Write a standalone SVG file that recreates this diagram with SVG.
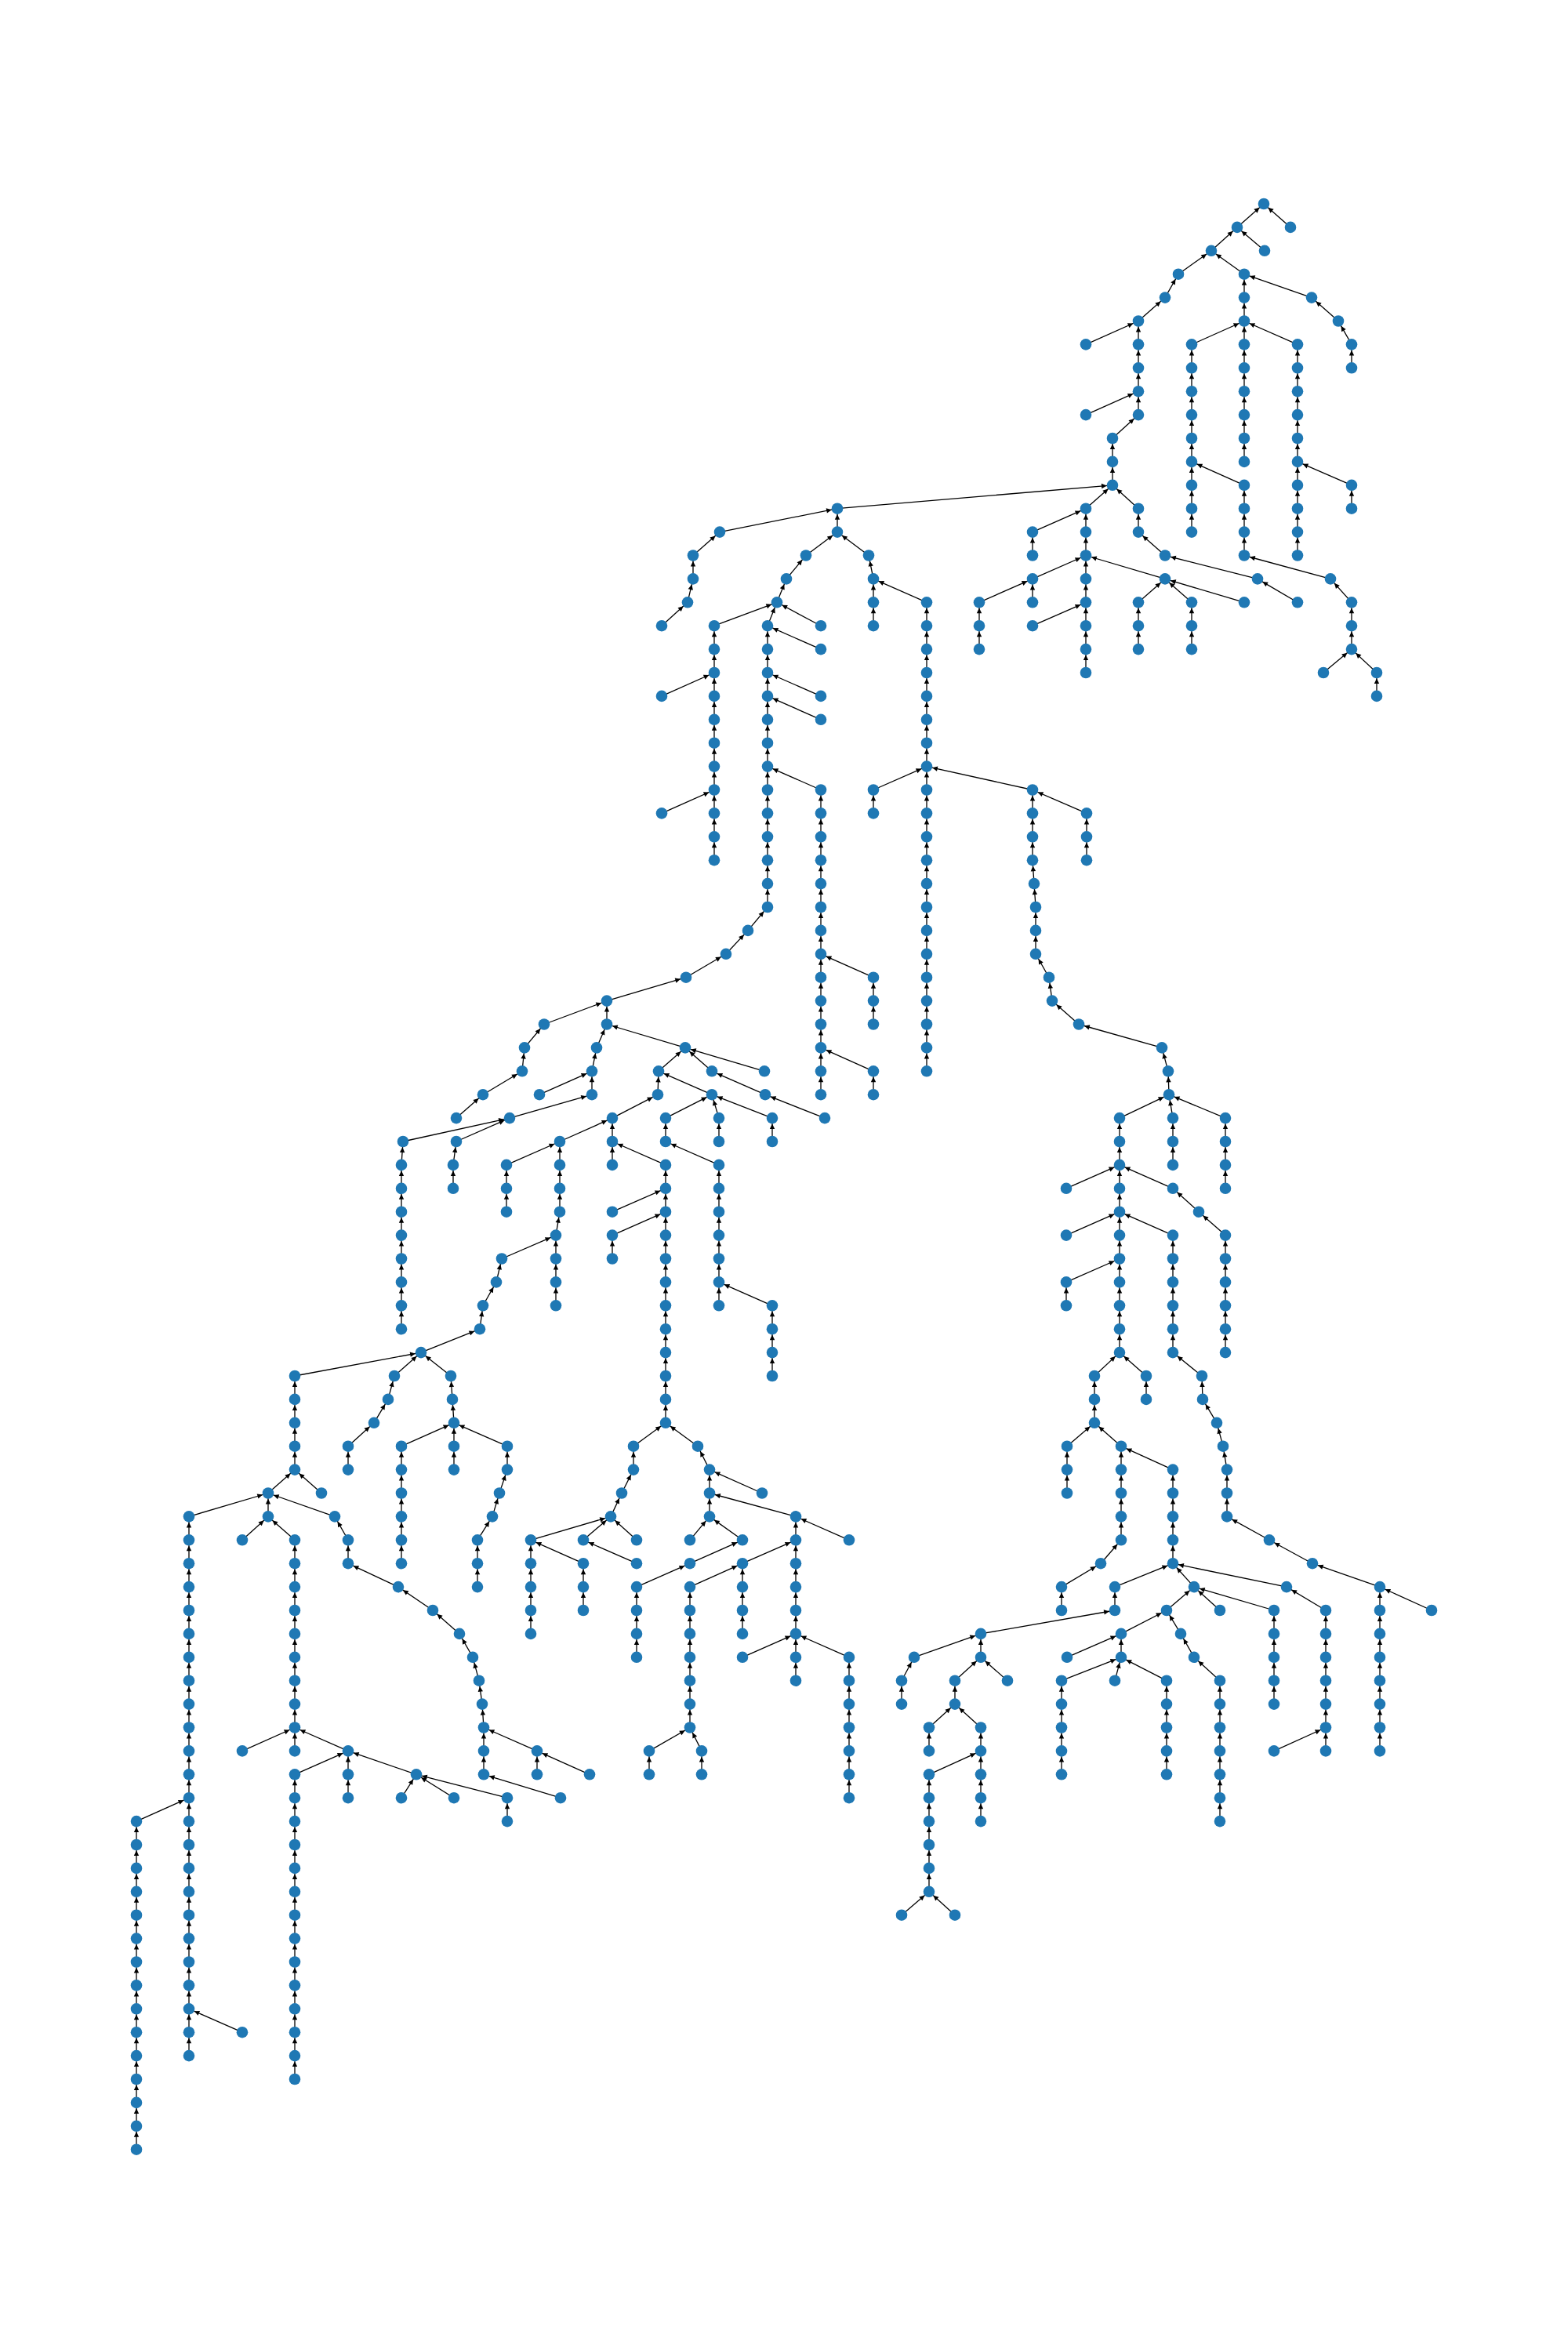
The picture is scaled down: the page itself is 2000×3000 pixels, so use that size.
<svg xmlns="http://www.w3.org/2000/svg" width="2000" height="3000" viewBox="0 0 2000 3000">
<style>
#edges line{stroke:#000;stroke-width:1.3;marker-end:url(#ah)}
#nodes circle{fill:#1f78b4}
</style>
<defs>
<marker id="ah" markerUnits="userSpaceOnUse" orient="auto" overflow="visible" markerWidth="20" markerHeight="20" refX="0" refY="0"><path d="M-14,-3.2 L-7.3,0 L-14,3.2 Z" fill="#000"/></marker>
</defs>
<rect width="2000" height="3000" fill="#fff"/>
<g id="edges">
<line x1="1578" y1="289.9" x2="1612" y2="260"/>
<line x1="1646" y1="289.9" x2="1612" y2="260"/>
<line x1="1545" y1="319.8" x2="1578" y2="289.9"/>
<line x1="1613" y1="319.8" x2="1578" y2="289.9"/>
<line x1="1503" y1="349.7" x2="1545" y2="319.8"/>
<line x1="1587" y1="349.7" x2="1545" y2="319.8"/>
<line x1="1486" y1="379.6" x2="1503" y2="349.7"/>
<line x1="1587" y1="379.6" x2="1587" y2="349.7"/>
<line x1="1673" y1="379.6" x2="1587" y2="349.7"/>
<line x1="1452" y1="409.5" x2="1486" y2="379.6"/>
<line x1="1587" y1="409.5" x2="1587" y2="379.6"/>
<line x1="1707" y1="409.5" x2="1673" y2="379.6"/>
<line x1="1385" y1="439.4" x2="1452" y2="409.5"/>
<line x1="1452" y1="439.4" x2="1452" y2="409.5"/>
<line x1="1520" y1="439.4" x2="1587" y2="409.5"/>
<line x1="1587" y1="439.4" x2="1587" y2="409.5"/>
<line x1="1655" y1="439.4" x2="1587" y2="409.5"/>
<line x1="1724" y1="439.4" x2="1707" y2="409.5"/>
<line x1="1452" y1="469.3" x2="1452" y2="439.4"/>
<line x1="1520" y1="469.3" x2="1520" y2="439.4"/>
<line x1="1587" y1="469.3" x2="1587" y2="439.4"/>
<line x1="1655" y1="469.3" x2="1655" y2="439.4"/>
<line x1="1724" y1="469.3" x2="1724" y2="439.4"/>
<line x1="1452" y1="499.2" x2="1452" y2="469.3"/>
<line x1="1520" y1="499.2" x2="1520" y2="469.3"/>
<line x1="1587" y1="499.2" x2="1587" y2="469.3"/>
<line x1="1655" y1="499.2" x2="1655" y2="469.3"/>
<line x1="1385" y1="529.1" x2="1452" y2="499.2"/>
<line x1="1452" y1="529.1" x2="1452" y2="499.2"/>
<line x1="1520" y1="529.1" x2="1520" y2="499.2"/>
<line x1="1587" y1="529.1" x2="1587" y2="499.2"/>
<line x1="1655" y1="529.1" x2="1655" y2="499.2"/>
<line x1="1419" y1="559" x2="1452" y2="529.1"/>
<line x1="1520" y1="559" x2="1520" y2="529.1"/>
<line x1="1587" y1="559" x2="1587" y2="529.1"/>
<line x1="1655" y1="559" x2="1655" y2="529.1"/>
<line x1="1419" y1="588.9" x2="1419" y2="559"/>
<line x1="1520" y1="588.9" x2="1520" y2="559"/>
<line x1="1587" y1="588.9" x2="1587" y2="559"/>
<line x1="1655" y1="588.9" x2="1655" y2="559"/>
<line x1="1419" y1="618.8" x2="1419" y2="588.9"/>
<line x1="1520" y1="618.8" x2="1520" y2="588.9"/>
<line x1="1587" y1="618.8" x2="1520" y2="588.9"/>
<line x1="1655" y1="618.8" x2="1655" y2="588.9"/>
<line x1="1724" y1="618.8" x2="1655" y2="588.9"/>
<line x1="1385" y1="648.7" x2="1419" y2="618.8"/>
<line x1="1452" y1="648.7" x2="1419" y2="618.8"/>
<line x1="1520" y1="648.7" x2="1520" y2="618.8"/>
<line x1="1587" y1="648.7" x2="1587" y2="618.8"/>
<line x1="1655" y1="648.7" x2="1655" y2="618.8"/>
<line x1="1724" y1="648.7" x2="1724" y2="618.8"/>
<line x1="1317" y1="678.6" x2="1385" y2="648.7"/>
<line x1="1385" y1="678.6" x2="1385" y2="648.7"/>
<line x1="1452" y1="678.6" x2="1452" y2="648.7"/>
<line x1="1520" y1="678.6" x2="1520" y2="648.7"/>
<line x1="1587" y1="678.6" x2="1587" y2="648.7"/>
<line x1="1655" y1="678.6" x2="1655" y2="648.7"/>
<line x1="1317" y1="708.5" x2="1317" y2="678.6"/>
<line x1="1385" y1="708.5" x2="1385" y2="678.6"/>
<line x1="1486" y1="708.5" x2="1452" y2="678.6"/>
<line x1="1587" y1="708.5" x2="1587" y2="678.6"/>
<line x1="1655" y1="708.5" x2="1655" y2="678.6"/>
<line x1="1317" y1="738.4" x2="1385" y2="708.5"/>
<line x1="1385" y1="738.4" x2="1385" y2="708.5"/>
<line x1="1486" y1="738.4" x2="1385" y2="708.5"/>
<line x1="1604" y1="738.4" x2="1486" y2="708.5"/>
<line x1="1697" y1="738.4" x2="1587" y2="708.5"/>
<line x1="1249" y1="768.3" x2="1317" y2="738.4"/>
<line x1="1317" y1="768.3" x2="1317" y2="738.4"/>
<line x1="1385" y1="768.3" x2="1385" y2="738.4"/>
<line x1="1452" y1="768.3" x2="1486" y2="738.4"/>
<line x1="1520" y1="768.3" x2="1486" y2="738.4"/>
<line x1="1587" y1="768.3" x2="1486" y2="738.4"/>
<line x1="1655" y1="768.3" x2="1604" y2="738.4"/>
<line x1="1724" y1="768.3" x2="1697" y2="738.4"/>
<line x1="1249" y1="798.2" x2="1249" y2="768.3"/>
<line x1="1317" y1="798.2" x2="1385" y2="768.3"/>
<line x1="1385" y1="798.2" x2="1385" y2="768.3"/>
<line x1="1452" y1="798.2" x2="1452" y2="768.3"/>
<line x1="1520" y1="798.2" x2="1520" y2="768.3"/>
<line x1="1724" y1="798.2" x2="1724" y2="768.3"/>
<line x1="1249" y1="828.1" x2="1249" y2="798.2"/>
<line x1="1385" y1="828.1" x2="1385" y2="798.2"/>
<line x1="1452" y1="828.1" x2="1452" y2="798.2"/>
<line x1="1520" y1="828.1" x2="1520" y2="798.2"/>
<line x1="1724" y1="828.1" x2="1724" y2="798.2"/>
<line x1="1385" y1="858" x2="1385" y2="828.1"/>
<line x1="1688" y1="858" x2="1724" y2="828.1"/>
<line x1="1756" y1="858" x2="1724" y2="828.1"/>
<line x1="1756" y1="887.9" x2="1756" y2="858"/>
<line x1="1068" y1="648.7" x2="1419" y2="618.8"/>
<line x1="918" y1="678.6" x2="1068" y2="648.7"/>
<line x1="1068" y1="678.6" x2="1068" y2="648.7"/>
<line x1="884" y1="708.5" x2="918" y2="678.6"/>
<line x1="884" y1="738.4" x2="884" y2="708.5"/>
<line x1="877" y1="768.3" x2="884" y2="738.4"/>
<line x1="844" y1="798.2" x2="877" y2="768.3"/>
<line x1="1028" y1="708.5" x2="1068" y2="678.6"/>
<line x1="1108" y1="708.5" x2="1068" y2="678.6"/>
<line x1="1003" y1="738.4" x2="1028" y2="708.5"/>
<line x1="991" y1="768.3" x2="1003" y2="738.4"/>
<line x1="911" y1="798.2" x2="991" y2="768.3"/>
<line x1="979" y1="798.2" x2="991" y2="768.3"/>
<line x1="1047" y1="798.2" x2="991" y2="768.3"/>
<line x1="911" y1="828.1" x2="911" y2="798.2"/>
<line x1="911" y1="858" x2="911" y2="828.1"/>
<line x1="911" y1="887.9" x2="911" y2="858"/>
<line x1="911" y1="917.8" x2="911" y2="887.9"/>
<line x1="911" y1="947.7" x2="911" y2="917.8"/>
<line x1="911" y1="977.6" x2="911" y2="947.7"/>
<line x1="911" y1="1007.5" x2="911" y2="977.6"/>
<line x1="911" y1="1037.4" x2="911" y2="1007.5"/>
<line x1="911" y1="1067.3" x2="911" y2="1037.4"/>
<line x1="911" y1="1097.2" x2="911" y2="1067.3"/>
<line x1="844" y1="887.9" x2="911" y2="858"/>
<line x1="844" y1="1037.4" x2="911" y2="1007.5"/>
<line x1="979" y1="828.1" x2="979" y2="798.2"/>
<line x1="979" y1="858" x2="979" y2="828.1"/>
<line x1="979" y1="887.9" x2="979" y2="858"/>
<line x1="979" y1="917.8" x2="979" y2="887.9"/>
<line x1="979" y1="947.7" x2="979" y2="917.8"/>
<line x1="979" y1="977.6" x2="979" y2="947.7"/>
<line x1="979" y1="1007.5" x2="979" y2="977.6"/>
<line x1="979" y1="1037.4" x2="979" y2="1007.5"/>
<line x1="979" y1="1067.3" x2="979" y2="1037.4"/>
<line x1="979" y1="1097.2" x2="979" y2="1067.3"/>
<line x1="979" y1="1127.1" x2="979" y2="1097.2"/>
<line x1="979" y1="1157" x2="979" y2="1127.1"/>
<line x1="1047" y1="828.1" x2="979" y2="798.2"/>
<line x1="1047" y1="887.9" x2="979" y2="858"/>
<line x1="1047" y1="917.8" x2="979" y2="887.9"/>
<line x1="1047" y1="1007.5" x2="979" y2="977.6"/>
<line x1="1047" y1="1037.4" x2="1047" y2="1007.5"/>
<line x1="1047" y1="1067.3" x2="1047" y2="1037.4"/>
<line x1="1047" y1="1097.2" x2="1047" y2="1067.3"/>
<line x1="1047" y1="1127.1" x2="1047" y2="1097.2"/>
<line x1="1047" y1="1157" x2="1047" y2="1127.1"/>
<line x1="1047" y1="1186.9" x2="1047" y2="1157"/>
<line x1="1047" y1="1216.8" x2="1047" y2="1186.9"/>
<line x1="1047" y1="1246.7" x2="1047" y2="1216.8"/>
<line x1="1047" y1="1276.6" x2="1047" y2="1246.7"/>
<line x1="1047" y1="1306.5" x2="1047" y2="1276.6"/>
<line x1="1047" y1="1336.4" x2="1047" y2="1306.5"/>
<line x1="1047" y1="1366.3" x2="1047" y2="1336.4"/>
<line x1="1047" y1="1396.2" x2="1047" y2="1366.3"/>
<line x1="1114" y1="1246.7" x2="1047" y2="1216.8"/>
<line x1="1114" y1="1276.6" x2="1114" y2="1246.7"/>
<line x1="1114" y1="1306.5" x2="1114" y2="1276.6"/>
<line x1="1114" y1="1366.3" x2="1047" y2="1336.4"/>
<line x1="1114" y1="1396.2" x2="1114" y2="1366.3"/>
<line x1="954" y1="1186.9" x2="979" y2="1157"/>
<line x1="926" y1="1216.8" x2="954" y2="1186.9"/>
<line x1="875" y1="1246.7" x2="926" y2="1216.8"/>
<line x1="1114" y1="738.4" x2="1108" y2="708.5"/>
<line x1="1114" y1="768.3" x2="1114" y2="738.4"/>
<line x1="1114" y1="798.2" x2="1114" y2="768.3"/>
<line x1="1182" y1="768.3" x2="1114" y2="738.4"/>
<line x1="1182" y1="798.2" x2="1182" y2="768.3"/>
<line x1="1182" y1="828.1" x2="1182" y2="798.2"/>
<line x1="1182" y1="858" x2="1182" y2="828.1"/>
<line x1="1182" y1="887.9" x2="1182" y2="858"/>
<line x1="1182" y1="917.8" x2="1182" y2="887.9"/>
<line x1="1182" y1="947.7" x2="1182" y2="917.8"/>
<line x1="1182" y1="977.6" x2="1182" y2="947.7"/>
<line x1="1182" y1="1007.5" x2="1182" y2="977.6"/>
<line x1="1182" y1="1037.4" x2="1182" y2="1007.5"/>
<line x1="1182" y1="1067.3" x2="1182" y2="1037.4"/>
<line x1="1182" y1="1097.2" x2="1182" y2="1067.3"/>
<line x1="1182" y1="1127.1" x2="1182" y2="1097.2"/>
<line x1="1182" y1="1157" x2="1182" y2="1127.1"/>
<line x1="1182" y1="1186.9" x2="1182" y2="1157"/>
<line x1="1182" y1="1216.8" x2="1182" y2="1186.9"/>
<line x1="1182" y1="1246.7" x2="1182" y2="1216.8"/>
<line x1="1182" y1="1276.6" x2="1182" y2="1246.7"/>
<line x1="1182" y1="1306.5" x2="1182" y2="1276.6"/>
<line x1="1182" y1="1336.4" x2="1182" y2="1306.5"/>
<line x1="1182" y1="1366.3" x2="1182" y2="1336.4"/>
<line x1="1114" y1="1007.5" x2="1182" y2="977.6"/>
<line x1="1114" y1="1037.4" x2="1114" y2="1007.5"/>
<line x1="1317" y1="1007.5" x2="1182" y2="977.6"/>
<line x1="1317" y1="1037.4" x2="1317" y2="1007.5"/>
<line x1="1317" y1="1067.3" x2="1317" y2="1037.4"/>
<line x1="1317" y1="1097.2" x2="1317" y2="1067.3"/>
<line x1="1319" y1="1127.1" x2="1317" y2="1097.2"/>
<line x1="1321" y1="1157" x2="1319" y2="1127.1"/>
<line x1="1321" y1="1186.9" x2="1321" y2="1157"/>
<line x1="1321" y1="1216.8" x2="1321" y2="1186.9"/>
<line x1="1338" y1="1246.7" x2="1321" y2="1216.8"/>
<line x1="1342" y1="1276.6" x2="1338" y2="1246.7"/>
<line x1="1376" y1="1306.5" x2="1342" y2="1276.6"/>
<line x1="1386" y1="1037.4" x2="1317" y2="1007.5"/>
<line x1="1386" y1="1067.3" x2="1386" y2="1037.4"/>
<line x1="1386" y1="1097.2" x2="1386" y2="1067.3"/>
<line x1="774" y1="1276.6" x2="875" y2="1246.7"/>
<line x1="694" y1="1306.5" x2="774" y2="1276.6"/>
<line x1="774" y1="1306.5" x2="774" y2="1276.6"/>
<line x1="669" y1="1336.4" x2="694" y2="1306.5"/>
<line x1="761" y1="1336.4" x2="774" y2="1306.5"/>
<line x1="874" y1="1336.4" x2="774" y2="1306.5"/>
<line x1="666" y1="1366.3" x2="669" y2="1336.4"/>
<line x1="755" y1="1366.3" x2="761" y2="1336.4"/>
<line x1="840" y1="1366.3" x2="874" y2="1336.4"/>
<line x1="908" y1="1366.3" x2="874" y2="1336.4"/>
<line x1="975" y1="1366.3" x2="874" y2="1336.4"/>
<line x1="616" y1="1396.2" x2="666" y2="1366.3"/>
<line x1="688" y1="1396.2" x2="755" y2="1366.3"/>
<line x1="755" y1="1396.2" x2="755" y2="1366.3"/>
<line x1="839" y1="1396.2" x2="840" y2="1366.3"/>
<line x1="908" y1="1396.2" x2="840" y2="1366.3"/>
<line x1="976" y1="1396.2" x2="908" y2="1366.3"/>
<line x1="582" y1="1426.1" x2="616" y2="1396.2"/>
<line x1="650" y1="1426.1" x2="755" y2="1396.2"/>
<line x1="781" y1="1426.1" x2="839" y2="1396.2"/>
<line x1="849" y1="1426.1" x2="908" y2="1396.2"/>
<line x1="917" y1="1426.1" x2="908" y2="1396.2"/>
<line x1="985" y1="1426.1" x2="908" y2="1396.2"/>
<line x1="1052" y1="1426.1" x2="976" y2="1396.2"/>
<line x1="514" y1="1456" x2="650" y2="1426.1"/>
<line x1="582" y1="1456" x2="650" y2="1426.1"/>
<line x1="714" y1="1456" x2="781" y2="1426.1"/>
<line x1="781" y1="1456" x2="781" y2="1426.1"/>
<line x1="849" y1="1456" x2="849" y2="1426.1"/>
<line x1="917" y1="1456" x2="917" y2="1426.1"/>
<line x1="985" y1="1456" x2="985" y2="1426.1"/>
<line x1="512" y1="1485.9" x2="514" y2="1456"/>
<line x1="512" y1="1515.8" x2="512" y2="1485.9"/>
<line x1="512" y1="1545.7" x2="512" y2="1515.8"/>
<line x1="512" y1="1575.6" x2="512" y2="1545.7"/>
<line x1="512" y1="1605.5" x2="512" y2="1575.6"/>
<line x1="512" y1="1635.4" x2="512" y2="1605.5"/>
<line x1="512" y1="1665.3" x2="512" y2="1635.4"/>
<line x1="512" y1="1695.2" x2="512" y2="1665.3"/>
<line x1="578" y1="1485.9" x2="582" y2="1456"/>
<line x1="578" y1="1515.8" x2="578" y2="1485.9"/>
<line x1="646" y1="1485.9" x2="714" y2="1456"/>
<line x1="646" y1="1515.8" x2="646" y2="1485.9"/>
<line x1="646" y1="1545.7" x2="646" y2="1515.8"/>
<line x1="714" y1="1485.9" x2="714" y2="1456"/>
<line x1="714" y1="1515.8" x2="714" y2="1485.9"/>
<line x1="714" y1="1545.7" x2="714" y2="1515.8"/>
<line x1="709" y1="1575.6" x2="714" y2="1545.7"/>
<line x1="709" y1="1605.5" x2="709" y2="1575.6"/>
<line x1="709" y1="1635.4" x2="709" y2="1605.5"/>
<line x1="709" y1="1665.3" x2="709" y2="1635.4"/>
<line x1="781" y1="1485.9" x2="781" y2="1456"/>
<line x1="849" y1="1485.9" x2="781" y2="1456"/>
<line x1="917" y1="1485.9" x2="849" y2="1456"/>
<line x1="849" y1="1515.8" x2="849" y2="1485.9"/>
<line x1="849" y1="1545.7" x2="849" y2="1515.8"/>
<line x1="849" y1="1575.6" x2="849" y2="1545.7"/>
<line x1="849" y1="1605.5" x2="849" y2="1575.6"/>
<line x1="849" y1="1635.4" x2="849" y2="1605.5"/>
<line x1="849" y1="1665.3" x2="849" y2="1635.4"/>
<line x1="849" y1="1695.2" x2="849" y2="1665.3"/>
<line x1="849" y1="1725.1" x2="849" y2="1695.2"/>
<line x1="849" y1="1755" x2="849" y2="1725.1"/>
<line x1="849" y1="1784.9" x2="849" y2="1755"/>
<line x1="849" y1="1814.8" x2="849" y2="1784.9"/>
<line x1="917" y1="1515.8" x2="917" y2="1485.9"/>
<line x1="917" y1="1545.7" x2="917" y2="1515.8"/>
<line x1="917" y1="1575.6" x2="917" y2="1545.7"/>
<line x1="917" y1="1605.5" x2="917" y2="1575.6"/>
<line x1="917" y1="1635.4" x2="917" y2="1605.5"/>
<line x1="917" y1="1665.3" x2="917" y2="1635.4"/>
<line x1="985" y1="1665.3" x2="917" y2="1635.4"/>
<line x1="985" y1="1695.2" x2="985" y2="1665.3"/>
<line x1="985" y1="1725.1" x2="985" y2="1695.2"/>
<line x1="985" y1="1755" x2="985" y2="1725.1"/>
<line x1="781" y1="1545.7" x2="849" y2="1515.8"/>
<line x1="781" y1="1575.6" x2="849" y2="1545.7"/>
<line x1="781" y1="1605.5" x2="781" y2="1575.6"/>
<line x1="640" y1="1605.5" x2="709" y2="1575.6"/>
<line x1="633" y1="1635.4" x2="640" y2="1605.5"/>
<line x1="616" y1="1665.3" x2="633" y2="1635.4"/>
<line x1="612" y1="1695.2" x2="616" y2="1665.3"/>
<line x1="537" y1="1725.1" x2="612" y2="1695.2"/>
<line x1="376" y1="1755" x2="537" y2="1725.1"/>
<line x1="503" y1="1755" x2="537" y2="1725.1"/>
<line x1="575" y1="1755" x2="537" y2="1725.1"/>
<line x1="376" y1="1784.9" x2="376" y2="1755"/>
<line x1="376" y1="1814.8" x2="376" y2="1784.9"/>
<line x1="376" y1="1844.7" x2="376" y2="1814.8"/>
<line x1="376" y1="1874.6" x2="376" y2="1844.7"/>
<line x1="342" y1="1904.5" x2="376" y2="1874.6"/>
<line x1="410" y1="1904.5" x2="376" y2="1874.6"/>
<line x1="241" y1="1934.4" x2="342" y2="1904.5"/>
<line x1="342" y1="1934.4" x2="342" y2="1904.5"/>
<line x1="427" y1="1934.4" x2="342" y2="1904.5"/>
<line x1="309" y1="1964.3" x2="342" y2="1934.4"/>
<line x1="376" y1="1964.3" x2="342" y2="1934.4"/>
<line x1="444" y1="1964.3" x2="427" y2="1934.4"/>
<line x1="444" y1="1994.2" x2="444" y2="1964.3"/>
<line x1="508" y1="2024.1" x2="444" y2="1994.2"/>
<line x1="552" y1="2054" x2="508" y2="2024.1"/>
<line x1="586" y1="2083.9" x2="552" y2="2054"/>
<line x1="603" y1="2113.8" x2="586" y2="2083.9"/>
<line x1="611" y1="2143.7" x2="603" y2="2113.8"/>
<line x1="615" y1="2173.6" x2="611" y2="2143.7"/>
<line x1="617" y1="2203.5" x2="615" y2="2173.6"/>
<line x1="617" y1="2233.4" x2="617" y2="2203.5"/>
<line x1="685" y1="2233.4" x2="617" y2="2203.5"/>
<line x1="617" y1="2263.3" x2="617" y2="2233.4"/>
<line x1="685" y1="2263.3" x2="685" y2="2233.4"/>
<line x1="752" y1="2263.3" x2="685" y2="2233.4"/>
<line x1="715" y1="2293.2" x2="617" y2="2263.3"/>
<line x1="376" y1="1994.2" x2="376" y2="1964.3"/>
<line x1="376" y1="2024.1" x2="376" y2="1994.2"/>
<line x1="376" y1="2054" x2="376" y2="2024.1"/>
<line x1="376" y1="2083.9" x2="376" y2="2054"/>
<line x1="376" y1="2113.8" x2="376" y2="2083.9"/>
<line x1="376" y1="2143.7" x2="376" y2="2113.8"/>
<line x1="376" y1="2173.6" x2="376" y2="2143.7"/>
<line x1="376" y1="2203.5" x2="376" y2="2173.6"/>
<line x1="309" y1="2233.4" x2="376" y2="2203.5"/>
<line x1="376" y1="2233.4" x2="376" y2="2203.5"/>
<line x1="444" y1="2233.4" x2="376" y2="2203.5"/>
<line x1="376" y1="2263.3" x2="444" y2="2233.4"/>
<line x1="444" y1="2263.3" x2="444" y2="2233.4"/>
<line x1="531" y1="2263.3" x2="444" y2="2233.4"/>
<line x1="376" y1="2293.2" x2="376" y2="2263.3"/>
<line x1="376" y1="2323.1" x2="376" y2="2293.2"/>
<line x1="376" y1="2353" x2="376" y2="2323.1"/>
<line x1="376" y1="2382.9" x2="376" y2="2353"/>
<line x1="376" y1="2412.8" x2="376" y2="2382.9"/>
<line x1="376" y1="2442.7" x2="376" y2="2412.8"/>
<line x1="376" y1="2472.6" x2="376" y2="2442.7"/>
<line x1="376" y1="2502.5" x2="376" y2="2472.6"/>
<line x1="376" y1="2532.4" x2="376" y2="2502.5"/>
<line x1="376" y1="2562.3" x2="376" y2="2532.4"/>
<line x1="376" y1="2592.2" x2="376" y2="2562.3"/>
<line x1="376" y1="2622.1" x2="376" y2="2592.2"/>
<line x1="376" y1="2652" x2="376" y2="2622.1"/>
<line x1="444" y1="2293.2" x2="444" y2="2263.3"/>
<line x1="512" y1="2293.2" x2="531" y2="2263.3"/>
<line x1="579" y1="2293.2" x2="531" y2="2263.3"/>
<line x1="647" y1="2293.2" x2="531" y2="2263.3"/>
<line x1="647" y1="2323.1" x2="647" y2="2293.2"/>
<line x1="241" y1="1964.3" x2="241" y2="1934.4"/>
<line x1="241" y1="1994.2" x2="241" y2="1964.3"/>
<line x1="241" y1="2024.1" x2="241" y2="1994.2"/>
<line x1="241" y1="2054" x2="241" y2="2024.1"/>
<line x1="241" y1="2083.9" x2="241" y2="2054"/>
<line x1="241" y1="2113.8" x2="241" y2="2083.9"/>
<line x1="241" y1="2143.7" x2="241" y2="2113.8"/>
<line x1="241" y1="2173.6" x2="241" y2="2143.7"/>
<line x1="241" y1="2203.5" x2="241" y2="2173.6"/>
<line x1="241" y1="2233.4" x2="241" y2="2203.5"/>
<line x1="241" y1="2263.3" x2="241" y2="2233.4"/>
<line x1="241" y1="2293.2" x2="241" y2="2263.3"/>
<line x1="241" y1="2323.1" x2="241" y2="2293.2"/>
<line x1="241" y1="2353" x2="241" y2="2323.1"/>
<line x1="241" y1="2382.9" x2="241" y2="2353"/>
<line x1="241" y1="2412.8" x2="241" y2="2382.9"/>
<line x1="241" y1="2442.7" x2="241" y2="2412.8"/>
<line x1="241" y1="2472.6" x2="241" y2="2442.7"/>
<line x1="241" y1="2502.5" x2="241" y2="2472.6"/>
<line x1="241" y1="2532.4" x2="241" y2="2502.5"/>
<line x1="241" y1="2562.3" x2="241" y2="2532.4"/>
<line x1="241" y1="2592.2" x2="241" y2="2562.3"/>
<line x1="241" y1="2622.1" x2="241" y2="2592.2"/>
<line x1="174" y1="2323.1" x2="241" y2="2293.2"/>
<line x1="174" y1="2353" x2="174" y2="2323.1"/>
<line x1="174" y1="2382.9" x2="174" y2="2353"/>
<line x1="174" y1="2412.8" x2="174" y2="2382.9"/>
<line x1="174" y1="2442.7" x2="174" y2="2412.8"/>
<line x1="174" y1="2472.6" x2="174" y2="2442.7"/>
<line x1="174" y1="2502.5" x2="174" y2="2472.6"/>
<line x1="174" y1="2532.4" x2="174" y2="2502.5"/>
<line x1="174" y1="2562.3" x2="174" y2="2532.4"/>
<line x1="174" y1="2592.2" x2="174" y2="2562.3"/>
<line x1="174" y1="2622.1" x2="174" y2="2592.2"/>
<line x1="174" y1="2652" x2="174" y2="2622.1"/>
<line x1="174" y1="2681.9" x2="174" y2="2652"/>
<line x1="174" y1="2711.8" x2="174" y2="2681.9"/>
<line x1="174" y1="2741.7" x2="174" y2="2711.8"/>
<line x1="309" y1="2592.2" x2="241" y2="2562.3"/>
<line x1="495" y1="1784.9" x2="503" y2="1755"/>
<line x1="477" y1="1814.8" x2="495" y2="1784.9"/>
<line x1="444" y1="1844.7" x2="477" y2="1814.8"/>
<line x1="444" y1="1874.6" x2="444" y2="1844.7"/>
<line x1="577" y1="1784.9" x2="575" y2="1755"/>
<line x1="579" y1="1814.8" x2="577" y2="1784.9"/>
<line x1="512" y1="1844.7" x2="579" y2="1814.8"/>
<line x1="579" y1="1844.7" x2="579" y2="1814.8"/>
<line x1="647" y1="1844.7" x2="579" y2="1814.8"/>
<line x1="579" y1="1874.6" x2="579" y2="1844.7"/>
<line x1="512" y1="1874.6" x2="512" y2="1844.7"/>
<line x1="512" y1="1904.5" x2="512" y2="1874.6"/>
<line x1="512" y1="1934.4" x2="512" y2="1904.5"/>
<line x1="512" y1="1964.3" x2="512" y2="1934.4"/>
<line x1="512" y1="1994.2" x2="512" y2="1964.3"/>
<line x1="647" y1="1874.6" x2="647" y2="1844.7"/>
<line x1="637" y1="1904.5" x2="647" y2="1874.6"/>
<line x1="628" y1="1934.4" x2="637" y2="1904.5"/>
<line x1="609" y1="1964.3" x2="628" y2="1934.4"/>
<line x1="609" y1="1994.2" x2="609" y2="1964.3"/>
<line x1="609" y1="2024.1" x2="609" y2="1994.2"/>
<line x1="808" y1="1844.7" x2="849" y2="1814.8"/>
<line x1="890" y1="1844.7" x2="849" y2="1814.8"/>
<line x1="808" y1="1874.6" x2="808" y2="1844.7"/>
<line x1="793" y1="1904.5" x2="808" y2="1874.6"/>
<line x1="779" y1="1934.4" x2="793" y2="1904.5"/>
<line x1="677" y1="1964.3" x2="779" y2="1934.4"/>
<line x1="744" y1="1964.3" x2="779" y2="1934.4"/>
<line x1="812" y1="1964.3" x2="779" y2="1934.4"/>
<line x1="677" y1="1994.2" x2="677" y2="1964.3"/>
<line x1="677" y1="2024.1" x2="677" y2="1994.2"/>
<line x1="677" y1="2054" x2="677" y2="2024.1"/>
<line x1="677" y1="2083.9" x2="677" y2="2054"/>
<line x1="744" y1="1994.2" x2="677" y2="1964.3"/>
<line x1="744" y1="2024.1" x2="744" y2="1994.2"/>
<line x1="744" y1="2054" x2="744" y2="2024.1"/>
<line x1="812" y1="1994.2" x2="744" y2="1964.3"/>
<line x1="905" y1="1874.6" x2="890" y2="1844.7"/>
<line x1="972" y1="1904.5" x2="905" y2="1874.6"/>
<line x1="905" y1="1904.5" x2="905" y2="1874.6"/>
<line x1="1015" y1="1934.4" x2="905" y2="1904.5"/>
<line x1="905" y1="1934.4" x2="905" y2="1904.5"/>
<line x1="880" y1="1964.3" x2="905" y2="1934.4"/>
<line x1="947" y1="1964.3" x2="905" y2="1934.4"/>
<line x1="1015" y1="1964.3" x2="1015" y2="1934.4"/>
<line x1="1083" y1="1964.3" x2="1015" y2="1934.4"/>
<line x1="880" y1="1994.2" x2="947" y2="1964.3"/>
<line x1="947" y1="1994.2" x2="1015" y2="1964.3"/>
<line x1="1015" y1="1994.2" x2="1015" y2="1964.3"/>
<line x1="812" y1="2024.1" x2="880" y2="1994.2"/>
<line x1="880" y1="2024.1" x2="947" y2="1994.2"/>
<line x1="947" y1="2024.1" x2="947" y2="1994.2"/>
<line x1="947" y1="2054" x2="947" y2="2024.1"/>
<line x1="947" y1="2083.9" x2="947" y2="2054"/>
<line x1="1015" y1="2024.1" x2="1015" y2="1994.2"/>
<line x1="1015" y1="2054" x2="1015" y2="2024.1"/>
<line x1="1015" y1="2083.9" x2="1015" y2="2054"/>
<line x1="812" y1="2054" x2="812" y2="2024.1"/>
<line x1="812" y1="2083.9" x2="812" y2="2054"/>
<line x1="812" y1="2113.8" x2="812" y2="2083.9"/>
<line x1="880" y1="2054" x2="880" y2="2024.1"/>
<line x1="880" y1="2083.9" x2="880" y2="2054"/>
<line x1="880" y1="2113.8" x2="880" y2="2083.9"/>
<line x1="880" y1="2143.7" x2="880" y2="2113.8"/>
<line x1="880" y1="2173.6" x2="880" y2="2143.7"/>
<line x1="880" y1="2203.5" x2="880" y2="2173.6"/>
<line x1="947" y1="2113.8" x2="1015" y2="2083.9"/>
<line x1="1015" y1="2113.8" x2="1015" y2="2083.9"/>
<line x1="1015" y1="2143.7" x2="1015" y2="2113.8"/>
<line x1="1083" y1="2113.8" x2="1015" y2="2083.9"/>
<line x1="1083" y1="2143.7" x2="1083" y2="2113.8"/>
<line x1="1083" y1="2173.6" x2="1083" y2="2143.7"/>
<line x1="1083" y1="2203.5" x2="1083" y2="2173.6"/>
<line x1="1083" y1="2233.4" x2="1083" y2="2203.5"/>
<line x1="1083" y1="2263.3" x2="1083" y2="2233.4"/>
<line x1="1083" y1="2293.2" x2="1083" y2="2263.3"/>
<line x1="828" y1="2233.4" x2="880" y2="2203.5"/>
<line x1="895" y1="2233.4" x2="880" y2="2203.5"/>
<line x1="828" y1="2263.3" x2="828" y2="2233.4"/>
<line x1="895" y1="2263.3" x2="895" y2="2233.4"/>
<line x1="1482" y1="1336.4" x2="1376" y2="1306.5"/>
<line x1="1490" y1="1366.3" x2="1482" y2="1336.4"/>
<line x1="1491" y1="1396.2" x2="1490" y2="1366.3"/>
<line x1="1428" y1="1426.1" x2="1491" y2="1396.2"/>
<line x1="1496" y1="1426.1" x2="1491" y2="1396.2"/>
<line x1="1563" y1="1426.1" x2="1491" y2="1396.2"/>
<line x1="1428" y1="1456" x2="1428" y2="1426.1"/>
<line x1="1428" y1="1485.9" x2="1428" y2="1456"/>
<line x1="1496" y1="1456" x2="1496" y2="1426.1"/>
<line x1="1496" y1="1485.9" x2="1496" y2="1456"/>
<line x1="1563" y1="1456" x2="1563" y2="1426.1"/>
<line x1="1563" y1="1485.9" x2="1563" y2="1456"/>
<line x1="1563" y1="1515.8" x2="1563" y2="1485.9"/>
<line x1="1360" y1="1515.8" x2="1428" y2="1485.9"/>
<line x1="1428" y1="1515.8" x2="1428" y2="1485.9"/>
<line x1="1496" y1="1515.8" x2="1428" y2="1485.9"/>
<line x1="1428" y1="1545.7" x2="1428" y2="1515.8"/>
<line x1="1529" y1="1545.7" x2="1496" y2="1515.8"/>
<line x1="1360" y1="1575.6" x2="1428" y2="1545.7"/>
<line x1="1428" y1="1575.6" x2="1428" y2="1545.7"/>
<line x1="1496" y1="1575.6" x2="1428" y2="1545.7"/>
<line x1="1563" y1="1575.6" x2="1529" y2="1545.7"/>
<line x1="1428" y1="1605.5" x2="1428" y2="1575.6"/>
<line x1="1496" y1="1605.5" x2="1496" y2="1575.6"/>
<line x1="1563" y1="1605.5" x2="1563" y2="1575.6"/>
<line x1="1360" y1="1635.4" x2="1428" y2="1605.5"/>
<line x1="1360" y1="1665.3" x2="1360" y2="1635.4"/>
<line x1="1428" y1="1635.4" x2="1428" y2="1605.5"/>
<line x1="1428" y1="1665.3" x2="1428" y2="1635.4"/>
<line x1="1428" y1="1695.2" x2="1428" y2="1665.3"/>
<line x1="1428" y1="1725.1" x2="1428" y2="1695.2"/>
<line x1="1496" y1="1635.4" x2="1496" y2="1605.5"/>
<line x1="1496" y1="1665.3" x2="1496" y2="1635.4"/>
<line x1="1496" y1="1695.2" x2="1496" y2="1665.3"/>
<line x1="1496" y1="1725.1" x2="1496" y2="1695.2"/>
<line x1="1563" y1="1635.4" x2="1563" y2="1605.5"/>
<line x1="1563" y1="1665.3" x2="1563" y2="1635.4"/>
<line x1="1563" y1="1695.2" x2="1563" y2="1665.3"/>
<line x1="1563" y1="1725.1" x2="1563" y2="1695.2"/>
<line x1="1396" y1="1755" x2="1428" y2="1725.1"/>
<line x1="1462" y1="1755" x2="1428" y2="1725.1"/>
<line x1="1533" y1="1755" x2="1496" y2="1725.1"/>
<line x1="1396" y1="1784.9" x2="1396" y2="1755"/>
<line x1="1396" y1="1814.8" x2="1396" y2="1784.9"/>
<line x1="1462" y1="1784.9" x2="1462" y2="1755"/>
<line x1="1534" y1="1784.9" x2="1533" y2="1755"/>
<line x1="1552" y1="1814.8" x2="1534" y2="1784.9"/>
<line x1="1560" y1="1844.7" x2="1552" y2="1814.8"/>
<line x1="1565" y1="1874.6" x2="1560" y2="1844.7"/>
<line x1="1565" y1="1904.5" x2="1565" y2="1874.6"/>
<line x1="1565" y1="1934.4" x2="1565" y2="1904.5"/>
<line x1="1619" y1="1964.3" x2="1565" y2="1934.4"/>
<line x1="1674" y1="1994.2" x2="1619" y2="1964.3"/>
<line x1="1760" y1="2024.1" x2="1674" y2="1994.2"/>
<line x1="1826" y1="2054" x2="1760" y2="2024.1"/>
<line x1="1760" y1="2054" x2="1760" y2="2024.1"/>
<line x1="1760" y1="2083.9" x2="1760" y2="2054"/>
<line x1="1760" y1="2113.8" x2="1760" y2="2083.9"/>
<line x1="1760" y1="2143.7" x2="1760" y2="2113.8"/>
<line x1="1760" y1="2173.6" x2="1760" y2="2143.7"/>
<line x1="1760" y1="2203.5" x2="1760" y2="2173.6"/>
<line x1="1760" y1="2233.4" x2="1760" y2="2203.5"/>
<line x1="1361" y1="1844.7" x2="1396" y2="1814.8"/>
<line x1="1361" y1="1874.6" x2="1361" y2="1844.7"/>
<line x1="1361" y1="1904.5" x2="1361" y2="1874.6"/>
<line x1="1430" y1="1844.7" x2="1396" y2="1814.8"/>
<line x1="1430" y1="1874.6" x2="1430" y2="1844.7"/>
<line x1="1430" y1="1904.5" x2="1430" y2="1874.6"/>
<line x1="1430" y1="1934.4" x2="1430" y2="1904.5"/>
<line x1="1430" y1="1964.3" x2="1430" y2="1934.4"/>
<line x1="1496" y1="1874.6" x2="1430" y2="1844.7"/>
<line x1="1496" y1="1904.5" x2="1496" y2="1874.6"/>
<line x1="1496" y1="1934.4" x2="1496" y2="1904.5"/>
<line x1="1496" y1="1964.3" x2="1496" y2="1934.4"/>
<line x1="1496" y1="1994.2" x2="1496" y2="1964.3"/>
<line x1="1404" y1="1994.2" x2="1430" y2="1964.3"/>
<line x1="1354" y1="2024.1" x2="1404" y2="1994.2"/>
<line x1="1354" y1="2054" x2="1354" y2="2024.1"/>
<line x1="1422" y1="2024.1" x2="1496" y2="1994.2"/>
<line x1="1523" y1="2024.1" x2="1496" y2="1994.2"/>
<line x1="1641" y1="2024.1" x2="1496" y2="1994.2"/>
<line x1="1422" y1="2054" x2="1422" y2="2024.1"/>
<line x1="1488" y1="2054" x2="1523" y2="2024.1"/>
<line x1="1556" y1="2054" x2="1523" y2="2024.1"/>
<line x1="1625" y1="2054" x2="1523" y2="2024.1"/>
<line x1="1691" y1="2054" x2="1641" y2="2024.1"/>
<line x1="1251" y1="2083.9" x2="1422" y2="2054"/>
<line x1="1430" y1="2083.9" x2="1488" y2="2054"/>
<line x1="1506" y1="2083.9" x2="1488" y2="2054"/>
<line x1="1625" y1="2083.9" x2="1625" y2="2054"/>
<line x1="1625" y1="2113.8" x2="1625" y2="2083.9"/>
<line x1="1625" y1="2143.7" x2="1625" y2="2113.8"/>
<line x1="1625" y1="2173.6" x2="1625" y2="2143.7"/>
<line x1="1691" y1="2083.9" x2="1691" y2="2054"/>
<line x1="1691" y1="2113.8" x2="1691" y2="2083.9"/>
<line x1="1691" y1="2143.7" x2="1691" y2="2113.8"/>
<line x1="1691" y1="2173.6" x2="1691" y2="2143.7"/>
<line x1="1691" y1="2203.5" x2="1691" y2="2173.6"/>
<line x1="1691" y1="2233.4" x2="1691" y2="2203.5"/>
<line x1="1625" y1="2233.4" x2="1691" y2="2203.5"/>
<line x1="1166" y1="2113.8" x2="1251" y2="2083.9"/>
<line x1="1251" y1="2113.8" x2="1251" y2="2083.9"/>
<line x1="1361" y1="2113.8" x2="1430" y2="2083.9"/>
<line x1="1430" y1="2113.8" x2="1430" y2="2083.9"/>
<line x1="1523" y1="2113.8" x2="1506" y2="2083.9"/>
<line x1="1150" y1="2143.7" x2="1166" y2="2113.8"/>
<line x1="1150" y1="2173.6" x2="1150" y2="2143.7"/>
<line x1="1218" y1="2143.7" x2="1251" y2="2113.8"/>
<line x1="1285" y1="2143.7" x2="1251" y2="2113.8"/>
<line x1="1218" y1="2173.6" x2="1218" y2="2143.7"/>
<line x1="1185" y1="2203.5" x2="1218" y2="2173.6"/>
<line x1="1251" y1="2203.5" x2="1218" y2="2173.6"/>
<line x1="1185" y1="2233.4" x2="1185" y2="2203.5"/>
<line x1="1251" y1="2233.4" x2="1251" y2="2203.5"/>
<line x1="1251" y1="2263.3" x2="1251" y2="2233.4"/>
<line x1="1251" y1="2293.2" x2="1251" y2="2263.3"/>
<line x1="1251" y1="2323.1" x2="1251" y2="2293.2"/>
<line x1="1185" y1="2263.3" x2="1251" y2="2233.4"/>
<line x1="1185" y1="2293.2" x2="1185" y2="2263.3"/>
<line x1="1185" y1="2323.1" x2="1185" y2="2293.2"/>
<line x1="1185" y1="2353" x2="1185" y2="2323.1"/>
<line x1="1185" y1="2382.9" x2="1185" y2="2353"/>
<line x1="1185" y1="2412.8" x2="1185" y2="2382.9"/>
<line x1="1150" y1="2442.7" x2="1185" y2="2412.8"/>
<line x1="1218" y1="2442.7" x2="1185" y2="2412.8"/>
<line x1="1354" y1="2143.7" x2="1430" y2="2113.8"/>
<line x1="1354" y1="2173.6" x2="1354" y2="2143.7"/>
<line x1="1354" y1="2203.5" x2="1354" y2="2173.6"/>
<line x1="1354" y1="2233.4" x2="1354" y2="2203.5"/>
<line x1="1354" y1="2263.3" x2="1354" y2="2233.4"/>
<line x1="1422" y1="2143.7" x2="1430" y2="2113.8"/>
<line x1="1488" y1="2143.7" x2="1430" y2="2113.8"/>
<line x1="1488" y1="2173.6" x2="1488" y2="2143.7"/>
<line x1="1488" y1="2203.5" x2="1488" y2="2173.6"/>
<line x1="1488" y1="2233.4" x2="1488" y2="2203.5"/>
<line x1="1488" y1="2263.3" x2="1488" y2="2233.4"/>
<line x1="1556" y1="2143.7" x2="1523" y2="2113.8"/>
<line x1="1556" y1="2173.6" x2="1556" y2="2143.7"/>
<line x1="1556" y1="2203.5" x2="1556" y2="2173.6"/>
<line x1="1556" y1="2233.4" x2="1556" y2="2203.5"/>
<line x1="1556" y1="2263.3" x2="1556" y2="2233.4"/>
<line x1="1556" y1="2293.2" x2="1556" y2="2263.3"/>
<line x1="1556" y1="2323.1" x2="1556" y2="2293.2"/>
</g>
<g id="nodes">
<g id="n1"><circle cx="1612" cy="260" r="7.3"/></g>
<g id="n2"><circle cx="1578" cy="289.9" r="7.3"/></g>
<g id="n3"><circle cx="1646" cy="289.9" r="7.3"/></g>
<g id="n4"><circle cx="1545" cy="319.8" r="7.3"/></g>
<g id="n5"><circle cx="1613" cy="319.8" r="7.3"/></g>
<g id="n6"><circle cx="1503" cy="349.7" r="7.3"/></g>
<g id="n7"><circle cx="1587" cy="349.7" r="7.3"/></g>
<g id="n8"><circle cx="1486" cy="379.6" r="7.3"/></g>
<g id="n9"><circle cx="1587" cy="379.6" r="7.3"/></g>
<g id="n10"><circle cx="1673" cy="379.6" r="7.3"/></g>
<g id="n11"><circle cx="1452" cy="409.5" r="7.3"/></g>
<g id="n12"><circle cx="1587" cy="409.5" r="7.3"/></g>
<g id="n13"><circle cx="1707" cy="409.5" r="7.3"/></g>
<g id="n14"><circle cx="1385" cy="439.4" r="7.3"/></g>
<g id="n15"><circle cx="1452" cy="439.4" r="7.3"/></g>
<g id="n16"><circle cx="1520" cy="439.4" r="7.3"/></g>
<g id="n17"><circle cx="1587" cy="439.4" r="7.3"/></g>
<g id="n18"><circle cx="1655" cy="439.4" r="7.3"/></g>
<g id="n19"><circle cx="1724" cy="439.4" r="7.3"/></g>
<g id="n20"><circle cx="1452" cy="469.3" r="7.3"/></g>
<g id="n21"><circle cx="1520" cy="469.3" r="7.3"/></g>
<g id="n22"><circle cx="1587" cy="469.3" r="7.3"/></g>
<g id="n23"><circle cx="1655" cy="469.3" r="7.3"/></g>
<g id="n24"><circle cx="1724" cy="469.3" r="7.3"/></g>
<g id="n25"><circle cx="1452" cy="499.2" r="7.3"/></g>
<g id="n26"><circle cx="1520" cy="499.2" r="7.3"/></g>
<g id="n27"><circle cx="1587" cy="499.2" r="7.3"/></g>
<g id="n28"><circle cx="1655" cy="499.2" r="7.3"/></g>
<g id="n29"><circle cx="1385" cy="529.1" r="7.3"/></g>
<g id="n30"><circle cx="1452" cy="529.1" r="7.3"/></g>
<g id="n31"><circle cx="1520" cy="529.1" r="7.3"/></g>
<g id="n32"><circle cx="1587" cy="529.1" r="7.3"/></g>
<g id="n33"><circle cx="1655" cy="529.1" r="7.3"/></g>
<g id="n34"><circle cx="1419" cy="559" r="7.3"/></g>
<g id="n35"><circle cx="1520" cy="559" r="7.3"/></g>
<g id="n36"><circle cx="1587" cy="559" r="7.3"/></g>
<g id="n37"><circle cx="1655" cy="559" r="7.3"/></g>
<g id="n38"><circle cx="1419" cy="588.9" r="7.3"/></g>
<g id="n39"><circle cx="1520" cy="588.9" r="7.3"/></g>
<g id="n40"><circle cx="1587" cy="588.9" r="7.3"/></g>
<g id="n41"><circle cx="1655" cy="588.9" r="7.3"/></g>
<g id="n42"><circle cx="1419" cy="618.8" r="7.3"/></g>
<g id="n43"><circle cx="1520" cy="618.8" r="7.3"/></g>
<g id="n44"><circle cx="1587" cy="618.8" r="7.3"/></g>
<g id="n45"><circle cx="1655" cy="618.8" r="7.3"/></g>
<g id="n46"><circle cx="1724" cy="618.8" r="7.3"/></g>
<g id="n47"><circle cx="1385" cy="648.7" r="7.3"/></g>
<g id="n48"><circle cx="1452" cy="648.7" r="7.3"/></g>
<g id="n49"><circle cx="1520" cy="648.7" r="7.3"/></g>
<g id="n50"><circle cx="1587" cy="648.7" r="7.3"/></g>
<g id="n51"><circle cx="1655" cy="648.7" r="7.3"/></g>
<g id="n52"><circle cx="1724" cy="648.7" r="7.3"/></g>
<g id="n53"><circle cx="1317" cy="678.6" r="7.3"/></g>
<g id="n54"><circle cx="1385" cy="678.6" r="7.3"/></g>
<g id="n55"><circle cx="1452" cy="678.6" r="7.3"/></g>
<g id="n56"><circle cx="1520" cy="678.6" r="7.3"/></g>
<g id="n57"><circle cx="1587" cy="678.6" r="7.3"/></g>
<g id="n58"><circle cx="1655" cy="678.6" r="7.3"/></g>
<g id="n59"><circle cx="1317" cy="708.5" r="7.3"/></g>
<g id="n60"><circle cx="1385" cy="708.5" r="7.3"/></g>
<g id="n61"><circle cx="1486" cy="708.5" r="7.3"/></g>
<g id="n62"><circle cx="1587" cy="708.5" r="7.3"/></g>
<g id="n63"><circle cx="1655" cy="708.5" r="7.3"/></g>
<g id="n64"><circle cx="1317" cy="738.4" r="7.3"/></g>
<g id="n65"><circle cx="1385" cy="738.4" r="7.3"/></g>
<g id="n66"><circle cx="1486" cy="738.4" r="7.3"/></g>
<g id="n67"><circle cx="1604" cy="738.4" r="7.3"/></g>
<g id="n68"><circle cx="1697" cy="738.4" r="7.3"/></g>
<g id="n69"><circle cx="1249" cy="768.3" r="7.3"/></g>
<g id="n70"><circle cx="1317" cy="768.3" r="7.3"/></g>
<g id="n71"><circle cx="1385" cy="768.3" r="7.3"/></g>
<g id="n72"><circle cx="1452" cy="768.3" r="7.3"/></g>
<g id="n73"><circle cx="1520" cy="768.3" r="7.3"/></g>
<g id="n74"><circle cx="1587" cy="768.3" r="7.3"/></g>
<g id="n75"><circle cx="1655" cy="768.3" r="7.3"/></g>
<g id="n76"><circle cx="1724" cy="768.3" r="7.3"/></g>
<g id="n77"><circle cx="1249" cy="798.2" r="7.3"/></g>
<g id="n78"><circle cx="1317" cy="798.2" r="7.3"/></g>
<g id="n79"><circle cx="1385" cy="798.2" r="7.3"/></g>
<g id="n80"><circle cx="1452" cy="798.2" r="7.3"/></g>
<g id="n81"><circle cx="1520" cy="798.2" r="7.3"/></g>
<g id="n82"><circle cx="1724" cy="798.2" r="7.3"/></g>
<g id="n83"><circle cx="1249" cy="828.1" r="7.3"/></g>
<g id="n84"><circle cx="1385" cy="828.1" r="7.3"/></g>
<g id="n85"><circle cx="1452" cy="828.1" r="7.3"/></g>
<g id="n86"><circle cx="1520" cy="828.1" r="7.3"/></g>
<g id="n87"><circle cx="1724" cy="828.1" r="7.3"/></g>
<g id="n88"><circle cx="1385" cy="858" r="7.3"/></g>
<g id="n89"><circle cx="1688" cy="858" r="7.3"/></g>
<g id="n90"><circle cx="1756" cy="858" r="7.3"/></g>
<g id="n91"><circle cx="1756" cy="887.9" r="7.3"/></g>
<g id="n92"><circle cx="1068" cy="648.7" r="7.3"/></g>
<g id="n93"><circle cx="918" cy="678.6" r="7.3"/></g>
<g id="n94"><circle cx="1068" cy="678.6" r="7.3"/></g>
<g id="n95"><circle cx="884" cy="708.5" r="7.3"/></g>
<g id="n96"><circle cx="884" cy="738.4" r="7.3"/></g>
<g id="n97"><circle cx="877" cy="768.3" r="7.3"/></g>
<g id="n98"><circle cx="844" cy="798.2" r="7.3"/></g>
<g id="n99"><circle cx="1028" cy="708.5" r="7.3"/></g>
<g id="n100"><circle cx="1108" cy="708.5" r="7.3"/></g>
<g id="n101"><circle cx="1003" cy="738.4" r="7.3"/></g>
<g id="n102"><circle cx="991" cy="768.3" r="7.3"/></g>
<g id="n103"><circle cx="911" cy="798.2" r="7.3"/></g>
<g id="n104"><circle cx="979" cy="798.2" r="7.3"/></g>
<g id="n105"><circle cx="1047" cy="798.2" r="7.3"/></g>
<g id="n106"><circle cx="911" cy="828.1" r="7.3"/></g>
<g id="n107"><circle cx="911" cy="858" r="7.3"/></g>
<g id="n108"><circle cx="911" cy="887.9" r="7.3"/></g>
<g id="n109"><circle cx="911" cy="917.8" r="7.3"/></g>
<g id="n110"><circle cx="911" cy="947.7" r="7.3"/></g>
<g id="n111"><circle cx="911" cy="977.6" r="7.3"/></g>
<g id="n112"><circle cx="911" cy="1007.5" r="7.3"/></g>
<g id="n113"><circle cx="911" cy="1037.4" r="7.3"/></g>
<g id="n114"><circle cx="911" cy="1067.3" r="7.3"/></g>
<g id="n115"><circle cx="911" cy="1097.2" r="7.3"/></g>
<g id="n116"><circle cx="844" cy="887.9" r="7.3"/></g>
<g id="n117"><circle cx="844" cy="1037.4" r="7.3"/></g>
<g id="n118"><circle cx="979" cy="828.1" r="7.3"/></g>
<g id="n119"><circle cx="979" cy="858" r="7.3"/></g>
<g id="n120"><circle cx="979" cy="887.9" r="7.3"/></g>
<g id="n121"><circle cx="979" cy="917.8" r="7.3"/></g>
<g id="n122"><circle cx="979" cy="947.7" r="7.3"/></g>
<g id="n123"><circle cx="979" cy="977.6" r="7.3"/></g>
<g id="n124"><circle cx="979" cy="1007.5" r="7.3"/></g>
<g id="n125"><circle cx="979" cy="1037.4" r="7.3"/></g>
<g id="n126"><circle cx="979" cy="1067.3" r="7.3"/></g>
<g id="n127"><circle cx="979" cy="1097.2" r="7.3"/></g>
<g id="n128"><circle cx="979" cy="1127.1" r="7.3"/></g>
<g id="n129"><circle cx="979" cy="1157" r="7.3"/></g>
<g id="n130"><circle cx="1047" cy="828.1" r="7.3"/></g>
<g id="n131"><circle cx="1047" cy="887.9" r="7.3"/></g>
<g id="n132"><circle cx="1047" cy="917.8" r="7.3"/></g>
<g id="n133"><circle cx="1047" cy="1007.5" r="7.3"/></g>
<g id="n134"><circle cx="1047" cy="1037.4" r="7.3"/></g>
<g id="n135"><circle cx="1047" cy="1067.3" r="7.3"/></g>
<g id="n136"><circle cx="1047" cy="1097.2" r="7.3"/></g>
<g id="n137"><circle cx="1047" cy="1127.1" r="7.3"/></g>
<g id="n138"><circle cx="1047" cy="1157" r="7.3"/></g>
<g id="n139"><circle cx="1047" cy="1186.9" r="7.3"/></g>
<g id="n140"><circle cx="1047" cy="1216.8" r="7.3"/></g>
<g id="n141"><circle cx="1047" cy="1246.7" r="7.3"/></g>
<g id="n142"><circle cx="1047" cy="1276.6" r="7.3"/></g>
<g id="n143"><circle cx="1047" cy="1306.5" r="7.3"/></g>
<g id="n144"><circle cx="1047" cy="1336.4" r="7.3"/></g>
<g id="n145"><circle cx="1047" cy="1366.3" r="7.3"/></g>
<g id="n146"><circle cx="1047" cy="1396.2" r="7.3"/></g>
<g id="n147"><circle cx="1114" cy="1246.7" r="7.3"/></g>
<g id="n148"><circle cx="1114" cy="1276.6" r="7.3"/></g>
<g id="n149"><circle cx="1114" cy="1306.5" r="7.3"/></g>
<g id="n150"><circle cx="1114" cy="1366.3" r="7.3"/></g>
<g id="n151"><circle cx="1114" cy="1396.2" r="7.3"/></g>
<g id="n152"><circle cx="954" cy="1186.9" r="7.3"/></g>
<g id="n153"><circle cx="926" cy="1216.8" r="7.3"/></g>
<g id="n154"><circle cx="875" cy="1246.7" r="7.3"/></g>
<g id="n155"><circle cx="1114" cy="738.4" r="7.3"/></g>
<g id="n156"><circle cx="1114" cy="768.3" r="7.3"/></g>
<g id="n157"><circle cx="1114" cy="798.2" r="7.3"/></g>
<g id="n158"><circle cx="1182" cy="768.3" r="7.3"/></g>
<g id="n159"><circle cx="1182" cy="798.2" r="7.3"/></g>
<g id="n160"><circle cx="1182" cy="828.1" r="7.3"/></g>
<g id="n161"><circle cx="1182" cy="858" r="7.3"/></g>
<g id="n162"><circle cx="1182" cy="887.9" r="7.3"/></g>
<g id="n163"><circle cx="1182" cy="917.8" r="7.3"/></g>
<g id="n164"><circle cx="1182" cy="947.7" r="7.3"/></g>
<g id="n165"><circle cx="1182" cy="977.6" r="7.3"/></g>
<g id="n166"><circle cx="1182" cy="1007.5" r="7.3"/></g>
<g id="n167"><circle cx="1182" cy="1037.4" r="7.3"/></g>
<g id="n168"><circle cx="1182" cy="1067.3" r="7.3"/></g>
<g id="n169"><circle cx="1182" cy="1097.2" r="7.3"/></g>
<g id="n170"><circle cx="1182" cy="1127.1" r="7.3"/></g>
<g id="n171"><circle cx="1182" cy="1157" r="7.3"/></g>
<g id="n172"><circle cx="1182" cy="1186.9" r="7.3"/></g>
<g id="n173"><circle cx="1182" cy="1216.8" r="7.3"/></g>
<g id="n174"><circle cx="1182" cy="1246.7" r="7.3"/></g>
<g id="n175"><circle cx="1182" cy="1276.6" r="7.3"/></g>
<g id="n176"><circle cx="1182" cy="1306.5" r="7.3"/></g>
<g id="n177"><circle cx="1182" cy="1336.4" r="7.3"/></g>
<g id="n178"><circle cx="1182" cy="1366.3" r="7.3"/></g>
<g id="n179"><circle cx="1114" cy="1007.5" r="7.3"/></g>
<g id="n180"><circle cx="1114" cy="1037.4" r="7.3"/></g>
<g id="n181"><circle cx="1317" cy="1007.5" r="7.3"/></g>
<g id="n182"><circle cx="1317" cy="1037.4" r="7.3"/></g>
<g id="n183"><circle cx="1317" cy="1067.3" r="7.3"/></g>
<g id="n184"><circle cx="1317" cy="1097.2" r="7.3"/></g>
<g id="n185"><circle cx="1319" cy="1127.1" r="7.3"/></g>
<g id="n186"><circle cx="1321" cy="1157" r="7.3"/></g>
<g id="n187"><circle cx="1321" cy="1186.9" r="7.3"/></g>
<g id="n188"><circle cx="1321" cy="1216.8" r="7.3"/></g>
<g id="n189"><circle cx="1338" cy="1246.7" r="7.3"/></g>
<g id="n190"><circle cx="1342" cy="1276.6" r="7.3"/></g>
<g id="n191"><circle cx="1376" cy="1306.5" r="7.3"/></g>
<g id="n192"><circle cx="1386" cy="1037.4" r="7.3"/></g>
<g id="n193"><circle cx="1386" cy="1067.3" r="7.3"/></g>
<g id="n194"><circle cx="1386" cy="1097.2" r="7.3"/></g>
<g id="n195"><circle cx="774" cy="1276.6" r="7.3"/></g>
<g id="n196"><circle cx="694" cy="1306.5" r="7.3"/></g>
<g id="n197"><circle cx="774" cy="1306.5" r="7.3"/></g>
<g id="n198"><circle cx="669" cy="1336.4" r="7.3"/></g>
<g id="n199"><circle cx="761" cy="1336.4" r="7.3"/></g>
<g id="n200"><circle cx="874" cy="1336.4" r="7.3"/></g>
<g id="n201"><circle cx="666" cy="1366.3" r="7.3"/></g>
<g id="n202"><circle cx="755" cy="1366.3" r="7.3"/></g>
<g id="n203"><circle cx="840" cy="1366.3" r="7.3"/></g>
<g id="n204"><circle cx="908" cy="1366.3" r="7.3"/></g>
<g id="n205"><circle cx="975" cy="1366.3" r="7.3"/></g>
<g id="n206"><circle cx="616" cy="1396.2" r="7.3"/></g>
<g id="n207"><circle cx="688" cy="1396.2" r="7.3"/></g>
<g id="n208"><circle cx="755" cy="1396.2" r="7.3"/></g>
<g id="n209"><circle cx="839" cy="1396.2" r="7.3"/></g>
<g id="n210"><circle cx="908" cy="1396.2" r="7.3"/></g>
<g id="n211"><circle cx="976" cy="1396.2" r="7.3"/></g>
<g id="n212"><circle cx="582" cy="1426.1" r="7.3"/></g>
<g id="n213"><circle cx="650" cy="1426.1" r="7.3"/></g>
<g id="n214"><circle cx="781" cy="1426.1" r="7.3"/></g>
<g id="n215"><circle cx="849" cy="1426.1" r="7.3"/></g>
<g id="n216"><circle cx="917" cy="1426.1" r="7.3"/></g>
<g id="n217"><circle cx="985" cy="1426.1" r="7.3"/></g>
<g id="n218"><circle cx="1052" cy="1426.1" r="7.3"/></g>
<g id="n219"><circle cx="514" cy="1456" r="7.3"/></g>
<g id="n220"><circle cx="582" cy="1456" r="7.3"/></g>
<g id="n221"><circle cx="714" cy="1456" r="7.3"/></g>
<g id="n222"><circle cx="781" cy="1456" r="7.3"/></g>
<g id="n223"><circle cx="849" cy="1456" r="7.3"/></g>
<g id="n224"><circle cx="917" cy="1456" r="7.3"/></g>
<g id="n225"><circle cx="985" cy="1456" r="7.3"/></g>
<g id="n226"><circle cx="512" cy="1485.9" r="7.3"/></g>
<g id="n227"><circle cx="512" cy="1515.8" r="7.3"/></g>
<g id="n228"><circle cx="512" cy="1545.7" r="7.3"/></g>
<g id="n229"><circle cx="512" cy="1575.6" r="7.3"/></g>
<g id="n230"><circle cx="512" cy="1605.5" r="7.3"/></g>
<g id="n231"><circle cx="512" cy="1635.4" r="7.3"/></g>
<g id="n232"><circle cx="512" cy="1665.3" r="7.3"/></g>
<g id="n233"><circle cx="512" cy="1695.2" r="7.3"/></g>
<g id="n234"><circle cx="578" cy="1485.9" r="7.3"/></g>
<g id="n235"><circle cx="578" cy="1515.8" r="7.3"/></g>
<g id="n236"><circle cx="646" cy="1485.9" r="7.3"/></g>
<g id="n237"><circle cx="646" cy="1515.8" r="7.3"/></g>
<g id="n238"><circle cx="646" cy="1545.7" r="7.3"/></g>
<g id="n239"><circle cx="714" cy="1485.9" r="7.3"/></g>
<g id="n240"><circle cx="714" cy="1515.8" r="7.3"/></g>
<g id="n241"><circle cx="714" cy="1545.7" r="7.3"/></g>
<g id="n242"><circle cx="709" cy="1575.6" r="7.3"/></g>
<g id="n243"><circle cx="709" cy="1605.5" r="7.3"/></g>
<g id="n244"><circle cx="709" cy="1635.4" r="7.3"/></g>
<g id="n245"><circle cx="709" cy="1665.3" r="7.3"/></g>
<g id="n246"><circle cx="781" cy="1485.9" r="7.3"/></g>
<g id="n247"><circle cx="849" cy="1485.9" r="7.3"/></g>
<g id="n248"><circle cx="917" cy="1485.9" r="7.3"/></g>
<g id="n249"><circle cx="849" cy="1515.8" r="7.3"/></g>
<g id="n250"><circle cx="849" cy="1545.7" r="7.3"/></g>
<g id="n251"><circle cx="849" cy="1575.6" r="7.3"/></g>
<g id="n252"><circle cx="849" cy="1605.5" r="7.3"/></g>
<g id="n253"><circle cx="849" cy="1635.4" r="7.3"/></g>
<g id="n254"><circle cx="849" cy="1665.3" r="7.3"/></g>
<g id="n255"><circle cx="849" cy="1695.2" r="7.3"/></g>
<g id="n256"><circle cx="849" cy="1725.1" r="7.3"/></g>
<g id="n257"><circle cx="849" cy="1755" r="7.3"/></g>
<g id="n258"><circle cx="849" cy="1784.9" r="7.3"/></g>
<g id="n259"><circle cx="849" cy="1814.8" r="7.3"/></g>
<g id="n260"><circle cx="917" cy="1515.8" r="7.3"/></g>
<g id="n261"><circle cx="917" cy="1545.7" r="7.3"/></g>
<g id="n262"><circle cx="917" cy="1575.6" r="7.3"/></g>
<g id="n263"><circle cx="917" cy="1605.5" r="7.3"/></g>
<g id="n264"><circle cx="917" cy="1635.4" r="7.3"/></g>
<g id="n265"><circle cx="917" cy="1665.3" r="7.3"/></g>
<g id="n266"><circle cx="985" cy="1665.3" r="7.3"/></g>
<g id="n267"><circle cx="985" cy="1695.2" r="7.3"/></g>
<g id="n268"><circle cx="985" cy="1725.1" r="7.3"/></g>
<g id="n269"><circle cx="985" cy="1755" r="7.3"/></g>
<g id="n270"><circle cx="781" cy="1545.7" r="7.3"/></g>
<g id="n271"><circle cx="781" cy="1575.6" r="7.3"/></g>
<g id="n272"><circle cx="781" cy="1605.5" r="7.3"/></g>
<g id="n273"><circle cx="640" cy="1605.5" r="7.3"/></g>
<g id="n274"><circle cx="633" cy="1635.4" r="7.3"/></g>
<g id="n275"><circle cx="616" cy="1665.3" r="7.3"/></g>
<g id="n276"><circle cx="612" cy="1695.2" r="7.3"/></g>
<g id="n277"><circle cx="537" cy="1725.1" r="7.3"/></g>
<g id="n278"><circle cx="376" cy="1755" r="7.3"/></g>
<g id="n279"><circle cx="503" cy="1755" r="7.3"/></g>
<g id="n280"><circle cx="575" cy="1755" r="7.3"/></g>
<g id="n281"><circle cx="376" cy="1784.9" r="7.3"/></g>
<g id="n282"><circle cx="376" cy="1814.8" r="7.3"/></g>
<g id="n283"><circle cx="376" cy="1844.7" r="7.3"/></g>
<g id="n284"><circle cx="376" cy="1874.6" r="7.3"/></g>
<g id="n285"><circle cx="342" cy="1904.5" r="7.3"/></g>
<g id="n286"><circle cx="410" cy="1904.5" r="7.3"/></g>
<g id="n287"><circle cx="241" cy="1934.4" r="7.3"/></g>
<g id="n288"><circle cx="342" cy="1934.4" r="7.3"/></g>
<g id="n289"><circle cx="427" cy="1934.4" r="7.3"/></g>
<g id="n290"><circle cx="309" cy="1964.3" r="7.3"/></g>
<g id="n291"><circle cx="376" cy="1964.3" r="7.3"/></g>
<g id="n292"><circle cx="444" cy="1964.3" r="7.3"/></g>
<g id="n293"><circle cx="444" cy="1994.2" r="7.3"/></g>
<g id="n294"><circle cx="508" cy="2024.1" r="7.3"/></g>
<g id="n295"><circle cx="552" cy="2054" r="7.3"/></g>
<g id="n296"><circle cx="586" cy="2083.9" r="7.3"/></g>
<g id="n297"><circle cx="603" cy="2113.8" r="7.3"/></g>
<g id="n298"><circle cx="611" cy="2143.7" r="7.3"/></g>
<g id="n299"><circle cx="615" cy="2173.6" r="7.3"/></g>
<g id="n300"><circle cx="617" cy="2203.5" r="7.3"/></g>
<g id="n301"><circle cx="617" cy="2233.4" r="7.3"/></g>
<g id="n302"><circle cx="685" cy="2233.4" r="7.3"/></g>
<g id="n303"><circle cx="617" cy="2263.3" r="7.3"/></g>
<g id="n304"><circle cx="685" cy="2263.3" r="7.3"/></g>
<g id="n305"><circle cx="752" cy="2263.3" r="7.3"/></g>
<g id="n306"><circle cx="715" cy="2293.2" r="7.3"/></g>
<g id="n307"><circle cx="376" cy="1994.2" r="7.3"/></g>
<g id="n308"><circle cx="376" cy="2024.1" r="7.3"/></g>
<g id="n309"><circle cx="376" cy="2054" r="7.3"/></g>
<g id="n310"><circle cx="376" cy="2083.9" r="7.3"/></g>
<g id="n311"><circle cx="376" cy="2113.8" r="7.3"/></g>
<g id="n312"><circle cx="376" cy="2143.7" r="7.3"/></g>
<g id="n313"><circle cx="376" cy="2173.6" r="7.3"/></g>
<g id="n314"><circle cx="376" cy="2203.5" r="7.3"/></g>
<g id="n315"><circle cx="309" cy="2233.4" r="7.3"/></g>
<g id="n316"><circle cx="376" cy="2233.4" r="7.3"/></g>
<g id="n317"><circle cx="444" cy="2233.4" r="7.3"/></g>
<g id="n318"><circle cx="376" cy="2263.3" r="7.3"/></g>
<g id="n319"><circle cx="444" cy="2263.3" r="7.3"/></g>
<g id="n320"><circle cx="531" cy="2263.3" r="7.3"/></g>
<g id="n321"><circle cx="376" cy="2293.2" r="7.3"/></g>
<g id="n322"><circle cx="376" cy="2323.1" r="7.3"/></g>
<g id="n323"><circle cx="376" cy="2353" r="7.3"/></g>
<g id="n324"><circle cx="376" cy="2382.9" r="7.3"/></g>
<g id="n325"><circle cx="376" cy="2412.8" r="7.3"/></g>
<g id="n326"><circle cx="376" cy="2442.7" r="7.3"/></g>
<g id="n327"><circle cx="376" cy="2472.6" r="7.3"/></g>
<g id="n328"><circle cx="376" cy="2502.5" r="7.3"/></g>
<g id="n329"><circle cx="376" cy="2532.4" r="7.3"/></g>
<g id="n330"><circle cx="376" cy="2562.3" r="7.3"/></g>
<g id="n331"><circle cx="376" cy="2592.2" r="7.3"/></g>
<g id="n332"><circle cx="376" cy="2622.1" r="7.3"/></g>
<g id="n333"><circle cx="376" cy="2652" r="7.3"/></g>
<g id="n334"><circle cx="444" cy="2293.2" r="7.3"/></g>
<g id="n335"><circle cx="512" cy="2293.2" r="7.3"/></g>
<g id="n336"><circle cx="579" cy="2293.2" r="7.3"/></g>
<g id="n337"><circle cx="647" cy="2293.2" r="7.3"/></g>
<g id="n338"><circle cx="647" cy="2323.1" r="7.3"/></g>
<g id="n339"><circle cx="241" cy="1964.3" r="7.3"/></g>
<g id="n340"><circle cx="241" cy="1994.2" r="7.3"/></g>
<g id="n341"><circle cx="241" cy="2024.1" r="7.3"/></g>
<g id="n342"><circle cx="241" cy="2054" r="7.3"/></g>
<g id="n343"><circle cx="241" cy="2083.9" r="7.3"/></g>
<g id="n344"><circle cx="241" cy="2113.8" r="7.3"/></g>
<g id="n345"><circle cx="241" cy="2143.7" r="7.3"/></g>
<g id="n346"><circle cx="241" cy="2173.6" r="7.3"/></g>
<g id="n347"><circle cx="241" cy="2203.5" r="7.3"/></g>
<g id="n348"><circle cx="241" cy="2233.4" r="7.3"/></g>
<g id="n349"><circle cx="241" cy="2263.3" r="7.3"/></g>
<g id="n350"><circle cx="241" cy="2293.2" r="7.3"/></g>
<g id="n351"><circle cx="241" cy="2323.1" r="7.3"/></g>
<g id="n352"><circle cx="241" cy="2353" r="7.3"/></g>
<g id="n353"><circle cx="241" cy="2382.9" r="7.3"/></g>
<g id="n354"><circle cx="241" cy="2412.8" r="7.3"/></g>
<g id="n355"><circle cx="241" cy="2442.7" r="7.3"/></g>
<g id="n356"><circle cx="241" cy="2472.6" r="7.3"/></g>
<g id="n357"><circle cx="241" cy="2502.5" r="7.3"/></g>
<g id="n358"><circle cx="241" cy="2532.4" r="7.3"/></g>
<g id="n359"><circle cx="241" cy="2562.3" r="7.3"/></g>
<g id="n360"><circle cx="241" cy="2592.2" r="7.3"/></g>
<g id="n361"><circle cx="241" cy="2622.1" r="7.3"/></g>
<g id="n362"><circle cx="174" cy="2323.1" r="7.3"/></g>
<g id="n363"><circle cx="174" cy="2353" r="7.3"/></g>
<g id="n364"><circle cx="174" cy="2382.9" r="7.3"/></g>
<g id="n365"><circle cx="174" cy="2412.8" r="7.3"/></g>
<g id="n366"><circle cx="174" cy="2442.7" r="7.3"/></g>
<g id="n367"><circle cx="174" cy="2472.6" r="7.3"/></g>
<g id="n368"><circle cx="174" cy="2502.5" r="7.3"/></g>
<g id="n369"><circle cx="174" cy="2532.4" r="7.3"/></g>
<g id="n370"><circle cx="174" cy="2562.3" r="7.3"/></g>
<g id="n371"><circle cx="174" cy="2592.2" r="7.3"/></g>
<g id="n372"><circle cx="174" cy="2622.1" r="7.3"/></g>
<g id="n373"><circle cx="174" cy="2652" r="7.3"/></g>
<g id="n374"><circle cx="174" cy="2681.9" r="7.3"/></g>
<g id="n375"><circle cx="174" cy="2711.8" r="7.3"/></g>
<g id="n376"><circle cx="174" cy="2741.7" r="7.3"/></g>
<g id="n377"><circle cx="309" cy="2592.2" r="7.3"/></g>
<g id="n378"><circle cx="495" cy="1784.9" r="7.3"/></g>
<g id="n379"><circle cx="477" cy="1814.8" r="7.3"/></g>
<g id="n380"><circle cx="444" cy="1844.7" r="7.3"/></g>
<g id="n381"><circle cx="444" cy="1874.6" r="7.3"/></g>
<g id="n382"><circle cx="577" cy="1784.9" r="7.3"/></g>
<g id="n383"><circle cx="579" cy="1814.8" r="7.3"/></g>
<g id="n384"><circle cx="512" cy="1844.7" r="7.3"/></g>
<g id="n385"><circle cx="579" cy="1844.7" r="7.3"/></g>
<g id="n386"><circle cx="647" cy="1844.7" r="7.3"/></g>
<g id="n387"><circle cx="579" cy="1874.6" r="7.3"/></g>
<g id="n388"><circle cx="512" cy="1874.6" r="7.3"/></g>
<g id="n389"><circle cx="512" cy="1904.5" r="7.3"/></g>
<g id="n390"><circle cx="512" cy="1934.4" r="7.3"/></g>
<g id="n391"><circle cx="512" cy="1964.3" r="7.3"/></g>
<g id="n392"><circle cx="512" cy="1994.2" r="7.3"/></g>
<g id="n393"><circle cx="647" cy="1874.6" r="7.3"/></g>
<g id="n394"><circle cx="637" cy="1904.5" r="7.3"/></g>
<g id="n395"><circle cx="628" cy="1934.4" r="7.3"/></g>
<g id="n396"><circle cx="609" cy="1964.3" r="7.3"/></g>
<g id="n397"><circle cx="609" cy="1994.2" r="7.3"/></g>
<g id="n398"><circle cx="609" cy="2024.1" r="7.3"/></g>
<g id="n399"><circle cx="808" cy="1844.7" r="7.3"/></g>
<g id="n400"><circle cx="890" cy="1844.7" r="7.3"/></g>
<g id="n401"><circle cx="808" cy="1874.6" r="7.3"/></g>
<g id="n402"><circle cx="793" cy="1904.5" r="7.3"/></g>
<g id="n403"><circle cx="779" cy="1934.4" r="7.3"/></g>
<g id="n404"><circle cx="677" cy="1964.3" r="7.3"/></g>
<g id="n405"><circle cx="744" cy="1964.3" r="7.3"/></g>
<g id="n406"><circle cx="812" cy="1964.3" r="7.3"/></g>
<g id="n407"><circle cx="677" cy="1994.2" r="7.3"/></g>
<g id="n408"><circle cx="677" cy="2024.1" r="7.3"/></g>
<g id="n409"><circle cx="677" cy="2054" r="7.3"/></g>
<g id="n410"><circle cx="677" cy="2083.9" r="7.3"/></g>
<g id="n411"><circle cx="744" cy="1994.2" r="7.3"/></g>
<g id="n412"><circle cx="744" cy="2024.1" r="7.3"/></g>
<g id="n413"><circle cx="744" cy="2054" r="7.3"/></g>
<g id="n414"><circle cx="812" cy="1994.2" r="7.3"/></g>
<g id="n415"><circle cx="905" cy="1874.6" r="7.3"/></g>
<g id="n416"><circle cx="972" cy="1904.5" r="7.3"/></g>
<g id="n417"><circle cx="905" cy="1904.5" r="7.3"/></g>
<g id="n418"><circle cx="1015" cy="1934.4" r="7.3"/></g>
<g id="n419"><circle cx="905" cy="1934.4" r="7.3"/></g>
<g id="n420"><circle cx="880" cy="1964.3" r="7.3"/></g>
<g id="n421"><circle cx="947" cy="1964.3" r="7.3"/></g>
<g id="n422"><circle cx="1015" cy="1964.3" r="7.3"/></g>
<g id="n423"><circle cx="1083" cy="1964.3" r="7.3"/></g>
<g id="n424"><circle cx="880" cy="1994.2" r="7.3"/></g>
<g id="n425"><circle cx="947" cy="1994.2" r="7.3"/></g>
<g id="n426"><circle cx="1015" cy="1994.2" r="7.3"/></g>
<g id="n427"><circle cx="812" cy="2024.1" r="7.3"/></g>
<g id="n428"><circle cx="880" cy="2024.1" r="7.3"/></g>
<g id="n429"><circle cx="947" cy="2024.1" r="7.3"/></g>
<g id="n430"><circle cx="947" cy="2054" r="7.3"/></g>
<g id="n431"><circle cx="947" cy="2083.9" r="7.3"/></g>
<g id="n432"><circle cx="1015" cy="2024.1" r="7.3"/></g>
<g id="n433"><circle cx="1015" cy="2054" r="7.3"/></g>
<g id="n434"><circle cx="1015" cy="2083.9" r="7.3"/></g>
<g id="n435"><circle cx="812" cy="2054" r="7.3"/></g>
<g id="n436"><circle cx="812" cy="2083.9" r="7.3"/></g>
<g id="n437"><circle cx="812" cy="2113.8" r="7.3"/></g>
<g id="n438"><circle cx="880" cy="2054" r="7.3"/></g>
<g id="n439"><circle cx="880" cy="2083.9" r="7.3"/></g>
<g id="n440"><circle cx="880" cy="2113.8" r="7.3"/></g>
<g id="n441"><circle cx="880" cy="2143.7" r="7.3"/></g>
<g id="n442"><circle cx="880" cy="2173.6" r="7.3"/></g>
<g id="n443"><circle cx="880" cy="2203.5" r="7.3"/></g>
<g id="n444"><circle cx="947" cy="2113.8" r="7.3"/></g>
<g id="n445"><circle cx="1015" cy="2113.8" r="7.3"/></g>
<g id="n446"><circle cx="1015" cy="2143.7" r="7.3"/></g>
<g id="n447"><circle cx="1083" cy="2113.8" r="7.3"/></g>
<g id="n448"><circle cx="1083" cy="2143.7" r="7.3"/></g>
<g id="n449"><circle cx="1083" cy="2173.6" r="7.3"/></g>
<g id="n450"><circle cx="1083" cy="2203.5" r="7.3"/></g>
<g id="n451"><circle cx="1083" cy="2233.4" r="7.3"/></g>
<g id="n452"><circle cx="1083" cy="2263.3" r="7.3"/></g>
<g id="n453"><circle cx="1083" cy="2293.2" r="7.3"/></g>
<g id="n454"><circle cx="828" cy="2233.4" r="7.3"/></g>
<g id="n455"><circle cx="895" cy="2233.4" r="7.3"/></g>
<g id="n456"><circle cx="828" cy="2263.3" r="7.3"/></g>
<g id="n457"><circle cx="895" cy="2263.3" r="7.3"/></g>
<g id="n458"><circle cx="1482" cy="1336.4" r="7.3"/></g>
<g id="n459"><circle cx="1490" cy="1366.3" r="7.3"/></g>
<g id="n460"><circle cx="1491" cy="1396.2" r="7.3"/></g>
<g id="n461"><circle cx="1428" cy="1426.1" r="7.3"/></g>
<g id="n462"><circle cx="1496" cy="1426.1" r="7.3"/></g>
<g id="n463"><circle cx="1563" cy="1426.1" r="7.3"/></g>
<g id="n464"><circle cx="1428" cy="1456" r="7.3"/></g>
<g id="n465"><circle cx="1428" cy="1485.9" r="7.3"/></g>
<g id="n466"><circle cx="1496" cy="1456" r="7.3"/></g>
<g id="n467"><circle cx="1496" cy="1485.9" r="7.3"/></g>
<g id="n468"><circle cx="1563" cy="1456" r="7.3"/></g>
<g id="n469"><circle cx="1563" cy="1485.9" r="7.3"/></g>
<g id="n470"><circle cx="1563" cy="1515.8" r="7.3"/></g>
<g id="n471"><circle cx="1360" cy="1515.8" r="7.3"/></g>
<g id="n472"><circle cx="1428" cy="1515.8" r="7.3"/></g>
<g id="n473"><circle cx="1496" cy="1515.8" r="7.3"/></g>
<g id="n474"><circle cx="1428" cy="1545.7" r="7.3"/></g>
<g id="n475"><circle cx="1529" cy="1545.7" r="7.3"/></g>
<g id="n476"><circle cx="1360" cy="1575.6" r="7.3"/></g>
<g id="n477"><circle cx="1428" cy="1575.6" r="7.3"/></g>
<g id="n478"><circle cx="1496" cy="1575.6" r="7.3"/></g>
<g id="n479"><circle cx="1563" cy="1575.6" r="7.3"/></g>
<g id="n480"><circle cx="1428" cy="1605.5" r="7.3"/></g>
<g id="n481"><circle cx="1496" cy="1605.5" r="7.3"/></g>
<g id="n482"><circle cx="1563" cy="1605.5" r="7.3"/></g>
<g id="n483"><circle cx="1360" cy="1635.4" r="7.3"/></g>
<g id="n484"><circle cx="1360" cy="1665.3" r="7.3"/></g>
<g id="n485"><circle cx="1428" cy="1635.4" r="7.3"/></g>
<g id="n486"><circle cx="1428" cy="1665.3" r="7.3"/></g>
<g id="n487"><circle cx="1428" cy="1695.2" r="7.3"/></g>
<g id="n488"><circle cx="1428" cy="1725.1" r="7.3"/></g>
<g id="n489"><circle cx="1496" cy="1635.4" r="7.3"/></g>
<g id="n490"><circle cx="1496" cy="1665.3" r="7.3"/></g>
<g id="n491"><circle cx="1496" cy="1695.2" r="7.3"/></g>
<g id="n492"><circle cx="1496" cy="1725.1" r="7.3"/></g>
<g id="n493"><circle cx="1563" cy="1635.4" r="7.3"/></g>
<g id="n494"><circle cx="1563" cy="1665.3" r="7.3"/></g>
<g id="n495"><circle cx="1563" cy="1695.2" r="7.3"/></g>
<g id="n496"><circle cx="1563" cy="1725.1" r="7.3"/></g>
<g id="n497"><circle cx="1396" cy="1755" r="7.3"/></g>
<g id="n498"><circle cx="1462" cy="1755" r="7.3"/></g>
<g id="n499"><circle cx="1533" cy="1755" r="7.3"/></g>
<g id="n500"><circle cx="1396" cy="1784.9" r="7.3"/></g>
<g id="n501"><circle cx="1396" cy="1814.8" r="7.3"/></g>
<g id="n502"><circle cx="1462" cy="1784.9" r="7.3"/></g>
<g id="n503"><circle cx="1534" cy="1784.9" r="7.3"/></g>
<g id="n504"><circle cx="1552" cy="1814.8" r="7.3"/></g>
<g id="n505"><circle cx="1560" cy="1844.7" r="7.3"/></g>
<g id="n506"><circle cx="1565" cy="1874.6" r="7.3"/></g>
<g id="n507"><circle cx="1565" cy="1904.5" r="7.3"/></g>
<g id="n508"><circle cx="1565" cy="1934.4" r="7.3"/></g>
<g id="n509"><circle cx="1619" cy="1964.3" r="7.3"/></g>
<g id="n510"><circle cx="1674" cy="1994.2" r="7.3"/></g>
<g id="n511"><circle cx="1760" cy="2024.1" r="7.3"/></g>
<g id="n512"><circle cx="1826" cy="2054" r="7.3"/></g>
<g id="n513"><circle cx="1760" cy="2054" r="7.3"/></g>
<g id="n514"><circle cx="1760" cy="2083.9" r="7.3"/></g>
<g id="n515"><circle cx="1760" cy="2113.8" r="7.3"/></g>
<g id="n516"><circle cx="1760" cy="2143.7" r="7.3"/></g>
<g id="n517"><circle cx="1760" cy="2173.6" r="7.3"/></g>
<g id="n518"><circle cx="1760" cy="2203.5" r="7.3"/></g>
<g id="n519"><circle cx="1760" cy="2233.4" r="7.3"/></g>
<g id="n520"><circle cx="1361" cy="1844.7" r="7.3"/></g>
<g id="n521"><circle cx="1361" cy="1874.6" r="7.3"/></g>
<g id="n522"><circle cx="1361" cy="1904.5" r="7.3"/></g>
<g id="n523"><circle cx="1430" cy="1844.7" r="7.3"/></g>
<g id="n524"><circle cx="1430" cy="1874.6" r="7.3"/></g>
<g id="n525"><circle cx="1430" cy="1904.5" r="7.3"/></g>
<g id="n526"><circle cx="1430" cy="1934.4" r="7.3"/></g>
<g id="n527"><circle cx="1430" cy="1964.3" r="7.3"/></g>
<g id="n528"><circle cx="1496" cy="1874.6" r="7.3"/></g>
<g id="n529"><circle cx="1496" cy="1904.5" r="7.3"/></g>
<g id="n530"><circle cx="1496" cy="1934.4" r="7.3"/></g>
<g id="n531"><circle cx="1496" cy="1964.3" r="7.3"/></g>
<g id="n532"><circle cx="1496" cy="1994.2" r="7.3"/></g>
<g id="n533"><circle cx="1404" cy="1994.2" r="7.3"/></g>
<g id="n534"><circle cx="1354" cy="2024.1" r="7.3"/></g>
<g id="n535"><circle cx="1354" cy="2054" r="7.3"/></g>
<g id="n536"><circle cx="1422" cy="2024.1" r="7.3"/></g>
<g id="n537"><circle cx="1523" cy="2024.1" r="7.3"/></g>
<g id="n538"><circle cx="1641" cy="2024.1" r="7.3"/></g>
<g id="n539"><circle cx="1422" cy="2054" r="7.3"/></g>
<g id="n540"><circle cx="1488" cy="2054" r="7.3"/></g>
<g id="n541"><circle cx="1556" cy="2054" r="7.3"/></g>
<g id="n542"><circle cx="1625" cy="2054" r="7.3"/></g>
<g id="n543"><circle cx="1691" cy="2054" r="7.3"/></g>
<g id="n544"><circle cx="1251" cy="2083.9" r="7.3"/></g>
<g id="n545"><circle cx="1430" cy="2083.9" r="7.3"/></g>
<g id="n546"><circle cx="1506" cy="2083.9" r="7.3"/></g>
<g id="n547"><circle cx="1625" cy="2083.9" r="7.3"/></g>
<g id="n548"><circle cx="1625" cy="2113.8" r="7.3"/></g>
<g id="n549"><circle cx="1625" cy="2143.7" r="7.3"/></g>
<g id="n550"><circle cx="1625" cy="2173.6" r="7.3"/></g>
<g id="n551"><circle cx="1691" cy="2083.9" r="7.3"/></g>
<g id="n552"><circle cx="1691" cy="2113.8" r="7.3"/></g>
<g id="n553"><circle cx="1691" cy="2143.7" r="7.3"/></g>
<g id="n554"><circle cx="1691" cy="2173.6" r="7.3"/></g>
<g id="n555"><circle cx="1691" cy="2203.5" r="7.3"/></g>
<g id="n556"><circle cx="1691" cy="2233.4" r="7.3"/></g>
<g id="n557"><circle cx="1625" cy="2233.4" r="7.3"/></g>
<g id="n558"><circle cx="1166" cy="2113.8" r="7.3"/></g>
<g id="n559"><circle cx="1251" cy="2113.8" r="7.3"/></g>
<g id="n560"><circle cx="1361" cy="2113.8" r="7.3"/></g>
<g id="n561"><circle cx="1430" cy="2113.8" r="7.3"/></g>
<g id="n562"><circle cx="1523" cy="2113.8" r="7.3"/></g>
<g id="n563"><circle cx="1150" cy="2143.7" r="7.3"/></g>
<g id="n564"><circle cx="1150" cy="2173.6" r="7.3"/></g>
<g id="n565"><circle cx="1218" cy="2143.7" r="7.3"/></g>
<g id="n566"><circle cx="1285" cy="2143.7" r="7.3"/></g>
<g id="n567"><circle cx="1218" cy="2173.6" r="7.3"/></g>
<g id="n568"><circle cx="1185" cy="2203.5" r="7.3"/></g>
<g id="n569"><circle cx="1251" cy="2203.5" r="7.3"/></g>
<g id="n570"><circle cx="1185" cy="2233.4" r="7.3"/></g>
<g id="n571"><circle cx="1251" cy="2233.4" r="7.3"/></g>
<g id="n572"><circle cx="1251" cy="2263.3" r="7.3"/></g>
<g id="n573"><circle cx="1251" cy="2293.2" r="7.3"/></g>
<g id="n574"><circle cx="1251" cy="2323.1" r="7.3"/></g>
<g id="n575"><circle cx="1185" cy="2263.3" r="7.3"/></g>
<g id="n576"><circle cx="1185" cy="2293.2" r="7.3"/></g>
<g id="n577"><circle cx="1185" cy="2323.1" r="7.3"/></g>
<g id="n578"><circle cx="1185" cy="2353" r="7.3"/></g>
<g id="n579"><circle cx="1185" cy="2382.9" r="7.3"/></g>
<g id="n580"><circle cx="1185" cy="2412.8" r="7.3"/></g>
<g id="n581"><circle cx="1150" cy="2442.7" r="7.3"/></g>
<g id="n582"><circle cx="1218" cy="2442.7" r="7.3"/></g>
<g id="n583"><circle cx="1354" cy="2143.7" r="7.3"/></g>
<g id="n584"><circle cx="1354" cy="2173.6" r="7.3"/></g>
<g id="n585"><circle cx="1354" cy="2203.5" r="7.3"/></g>
<g id="n586"><circle cx="1354" cy="2233.4" r="7.3"/></g>
<g id="n587"><circle cx="1354" cy="2263.3" r="7.3"/></g>
<g id="n588"><circle cx="1422" cy="2143.7" r="7.3"/></g>
<g id="n589"><circle cx="1488" cy="2143.7" r="7.3"/></g>
<g id="n590"><circle cx="1488" cy="2173.6" r="7.3"/></g>
<g id="n591"><circle cx="1488" cy="2203.5" r="7.3"/></g>
<g id="n592"><circle cx="1488" cy="2233.4" r="7.3"/></g>
<g id="n593"><circle cx="1488" cy="2263.3" r="7.3"/></g>
<g id="n594"><circle cx="1556" cy="2143.7" r="7.3"/></g>
<g id="n595"><circle cx="1556" cy="2173.6" r="7.3"/></g>
<g id="n596"><circle cx="1556" cy="2203.5" r="7.3"/></g>
<g id="n597"><circle cx="1556" cy="2233.4" r="7.3"/></g>
<g id="n598"><circle cx="1556" cy="2263.3" r="7.3"/></g>
<g id="n599"><circle cx="1556" cy="2293.2" r="7.3"/></g>
<g id="n600"><circle cx="1556" cy="2323.1" r="7.3"/></g>
</g>
</svg>
